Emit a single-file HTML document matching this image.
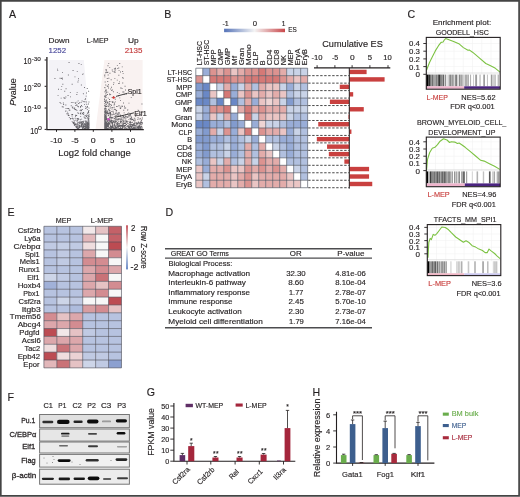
<!DOCTYPE html>
<html><head><meta charset="utf-8"><style>
html,body{margin:0;padding:0;background:#fff;}
body{width:520px;height:497px;overflow:hidden;}
svg{display:block;font-family:"Liberation Sans", sans-serif;filter:blur(0.3px);}
text{stroke-width:0.15px;}
</style></head><body>
<svg width="520" height="497" viewBox="0 0 520 497">
<rect width="520" height="497" fill="#fff"/>
<text x="8.90" y="17.80" font-size="10.6" text-anchor="start" fill="#231f20" stroke="#231f20" >A</text><text x="164.20" y="17.80" font-size="10.6" text-anchor="start" fill="#231f20" stroke="#231f20" >B</text><text x="407.40" y="18.00" font-size="10.6" text-anchor="start" fill="#231f20" stroke="#231f20" >C</text><text x="165.60" y="216.10" font-size="10.6" text-anchor="start" fill="#231f20" stroke="#231f20" >D</text><text x="7.60" y="215.80" font-size="10.6" text-anchor="start" fill="#231f20" stroke="#231f20" >E</text><text x="7.60" y="401.30" font-size="10.6" text-anchor="start" fill="#231f20" stroke="#231f20" >F</text><text x="146.80" y="396.00" font-size="10.6" text-anchor="start" fill="#231f20" stroke="#231f20" >G</text><text x="312.60" y="396.30" font-size="10.6" text-anchor="start" fill="#231f20" stroke="#231f20" >H</text><polygon points="49,60 83.8,60 90.2,129 49,129" fill="#f4f3f7"/><polygon points="104.4,60 142.6,60 142.6,129 95.6,129" fill="#f9f2f1"/><path d="M83.0 127.1h0.9v0.9h-0.9zM76.1 124.5h0.9v0.9h-0.9zM88.2 122.2h0.9v0.9h-0.9zM88.4 123.5h0.9v0.9h-0.9zM88.1 127.7h0.9v0.9h-0.9zM80.0 112.8h0.9v0.9h-0.9zM87.4 126.3h0.9v0.9h-0.9zM72.5 102.0h0.9v0.9h-0.9zM74.5 124.1h0.9v0.9h-0.9zM87.1 127.5h0.9v0.9h-0.9zM83.4 113.4h0.9v0.9h-0.9zM86.4 120.8h0.9v0.9h-0.9zM88.2 126.5h0.9v0.9h-0.9zM83.3 120.7h0.9v0.9h-0.9zM79.0 125.4h0.9v0.9h-0.9zM85.0 120.9h0.9v0.9h-0.9zM76.5 109.9h0.9v0.9h-0.9zM80.2 115.9h0.9v0.9h-0.9zM86.9 122.6h0.9v0.9h-0.9zM88.4 118.7h0.9v0.9h-0.9zM74.4 123.1h0.9v0.9h-0.9zM62.9 102.5h0.9v0.9h-0.9zM78.3 118.8h0.9v0.9h-0.9zM88.2 117.7h0.9v0.9h-0.9zM71.7 83.8h0.9v0.9h-0.9zM81.2 118.7h0.9v0.9h-0.9zM88.5 123.0h0.9v0.9h-0.9zM86.6 127.5h0.9v0.9h-0.9zM88.2 115.4h0.9v0.9h-0.9zM87.3 126.0h0.9v0.9h-0.9zM81.0 110.1h0.9v0.9h-0.9zM88.0 123.2h0.9v0.9h-0.9zM75.6 109.3h0.9v0.9h-0.9zM84.2 123.8h0.9v0.9h-0.9zM82.0 109.2h0.9v0.9h-0.9zM86.5 126.2h0.9v0.9h-0.9zM85.3 122.6h0.9v0.9h-0.9zM88.6 123.7h0.9v0.9h-0.9zM81.7 121.1h0.9v0.9h-0.9zM76.8 119.9h0.9v0.9h-0.9zM81.0 124.0h0.9v0.9h-0.9zM87.7 119.5h0.9v0.9h-0.9zM88.2 128.0h0.9v0.9h-0.9zM85.8 127.0h0.9v0.9h-0.9zM82.5 128.1h0.9v0.9h-0.9zM88.6 127.1h0.9v0.9h-0.9zM87.7 124.5h0.9v0.9h-0.9zM88.5 109.9h0.9v0.9h-0.9zM84.8 124.8h0.9v0.9h-0.9zM81.8 127.4h0.9v0.9h-0.9zM62.4 83.8h0.9v0.9h-0.9zM78.6 122.6h0.9v0.9h-0.9zM87.9 127.6h0.9v0.9h-0.9zM82.5 125.8h0.9v0.9h-0.9zM88.5 101.5h0.9v0.9h-0.9zM76.4 127.2h0.9v0.9h-0.9zM76.4 94.0h0.9v0.9h-0.9zM84.6 124.5h0.9v0.9h-0.9zM86.7 115.3h0.9v0.9h-0.9zM76.2 115.0h0.9v0.9h-0.9zM82.8 126.3h0.9v0.9h-0.9zM64.3 90.8h0.9v0.9h-0.9zM85.4 122.0h0.9v0.9h-0.9zM82.1 128.3h0.9v0.9h-0.9zM88.5 125.7h0.9v0.9h-0.9zM84.7 118.0h0.9v0.9h-0.9zM58.0 88.8h0.9v0.9h-0.9zM85.6 126.3h0.9v0.9h-0.9zM86.1 126.5h0.9v0.9h-0.9zM72.6 107.8h0.9v0.9h-0.9zM71.4 114.1h0.9v0.9h-0.9zM87.9 118.9h0.9v0.9h-0.9zM86.4 114.6h0.9v0.9h-0.9zM82.8 114.1h0.9v0.9h-0.9zM80.7 102.2h0.9v0.9h-0.9zM87.3 127.1h0.9v0.9h-0.9zM87.0 112.8h0.9v0.9h-0.9zM82.2 121.4h0.9v0.9h-0.9zM87.3 128.5h0.9v0.9h-0.9zM76.4 104.2h0.9v0.9h-0.9zM79.7 110.1h0.9v0.9h-0.9zM84.9 125.5h0.9v0.9h-0.9zM85.1 120.7h0.9v0.9h-0.9zM84.7 123.7h0.9v0.9h-0.9zM87.3 106.9h0.9v0.9h-0.9zM82.2 123.1h0.9v0.9h-0.9zM74.2 107.5h0.9v0.9h-0.9zM80.1 106.1h0.9v0.9h-0.9zM77.3 121.8h0.9v0.9h-0.9zM76.5 128.4h0.9v0.9h-0.9zM79.5 126.8h0.9v0.9h-0.9zM88.6 114.2h0.9v0.9h-0.9zM86.6 122.8h0.9v0.9h-0.9zM82.9 122.0h0.9v0.9h-0.9zM75.3 114.8h0.9v0.9h-0.9zM87.7 121.2h0.9v0.9h-0.9zM84.9 125.7h0.9v0.9h-0.9zM75.1 115.8h0.9v0.9h-0.9zM73.1 122.3h0.9v0.9h-0.9zM76.9 118.0h0.9v0.9h-0.9zM79.0 121.7h0.9v0.9h-0.9zM78.2 103.1h0.9v0.9h-0.9zM69.4 109.8h0.9v0.9h-0.9zM75.2 102.8h0.9v0.9h-0.9zM87.4 123.3h0.9v0.9h-0.9zM88.1 126.1h0.9v0.9h-0.9zM88.1 118.6h0.9v0.9h-0.9zM65.6 108.1h0.9v0.9h-0.9zM86.9 117.3h0.9v0.9h-0.9zM60.7 97.7h0.9v0.9h-0.9zM85.6 101.2h0.9v0.9h-0.9zM80.8 122.6h0.9v0.9h-0.9zM86.8 123.5h0.9v0.9h-0.9zM76.8 124.9h0.9v0.9h-0.9zM86.1 125.1h0.9v0.9h-0.9zM75.4 123.4h0.9v0.9h-0.9zM88.5 125.0h0.9v0.9h-0.9zM72.6 122.1h0.9v0.9h-0.9zM88.2 90.8h0.9v0.9h-0.9zM65.4 96.5h0.9v0.9h-0.9zM87.7 125.8h0.9v0.9h-0.9zM88.4 115.0h0.9v0.9h-0.9zM84.4 127.4h0.9v0.9h-0.9zM80.0 106.8h0.9v0.9h-0.9zM87.0 106.0h0.9v0.9h-0.9zM74.7 117.8h0.9v0.9h-0.9zM87.9 128.1h0.9v0.9h-0.9zM88.1 103.5h0.9v0.9h-0.9zM72.2 114.0h0.9v0.9h-0.9zM88.0 111.1h0.9v0.9h-0.9zM88.2 110.7h0.9v0.9h-0.9zM79.0 124.9h0.9v0.9h-0.9zM75.4 105.1h0.9v0.9h-0.9zM84.5 127.4h0.9v0.9h-0.9zM76.4 126.1h0.9v0.9h-0.9zM87.6 127.0h0.9v0.9h-0.9zM88.3 126.6h0.9v0.9h-0.9zM83.3 125.3h0.9v0.9h-0.9zM77.4 126.8h0.9v0.9h-0.9zM82.3 128.4h0.9v0.9h-0.9zM84.9 128.5h0.9v0.9h-0.9zM86.2 122.8h0.9v0.9h-0.9zM77.6 112.4h0.9v0.9h-0.9zM81.0 122.2h0.9v0.9h-0.9zM69.9 92.2h0.9v0.9h-0.9zM82.5 112.5h0.9v0.9h-0.9zM80.6 124.8h0.9v0.9h-0.9zM88.3 127.3h0.9v0.9h-0.9zM88.1 116.4h0.9v0.9h-0.9zM84.8 127.0h0.9v0.9h-0.9zM87.9 112.0h0.9v0.9h-0.9zM84.1 126.1h0.9v0.9h-0.9zM83.8 123.1h0.9v0.9h-0.9zM86.8 123.3h0.9v0.9h-0.9zM84.6 99.2h0.9v0.9h-0.9zM85.0 98.3h0.9v0.9h-0.9zM83.4 124.6h0.9v0.9h-0.9zM88.6 124.3h0.9v0.9h-0.9zM78.3 122.3h0.9v0.9h-0.9zM86.0 122.3h0.9v0.9h-0.9zM88.6 125.8h0.9v0.9h-0.9zM87.9 124.0h0.9v0.9h-0.9zM88.4 128.4h0.9v0.9h-0.9zM83.5 126.2h0.9v0.9h-0.9zM74.2 121.8h0.9v0.9h-0.9zM68.7 109.6h0.9v0.9h-0.9zM81.1 125.0h0.9v0.9h-0.9zM88.4 112.4h0.9v0.9h-0.9zM67.9 113.5h0.9v0.9h-0.9zM87.1 121.9h0.9v0.9h-0.9zM77.2 112.4h0.9v0.9h-0.9zM74.2 108.5h0.9v0.9h-0.9zM70.1 118.0h0.9v0.9h-0.9zM85.4 128.3h0.9v0.9h-0.9zM87.3 124.6h0.9v0.9h-0.9zM87.7 112.3h0.9v0.9h-0.9zM75.2 119.7h0.9v0.9h-0.9zM72.5 118.3h0.9v0.9h-0.9zM77.8 128.6h0.9v0.9h-0.9zM77.3 121.7h0.9v0.9h-0.9zM88.1 125.8h0.9v0.9h-0.9zM67.6 95.1h0.9v0.9h-0.9zM77.6 124.3h0.9v0.9h-0.9zM78.1 118.2h0.9v0.9h-0.9zM87.0 126.0h0.9v0.9h-0.9zM88.2 125.8h0.9v0.9h-0.9zM70.6 118.0h0.9v0.9h-0.9zM76.8 123.0h0.9v0.9h-0.9zM78.6 127.5h0.9v0.9h-0.9zM88.5 123.1h0.9v0.9h-0.9zM63.9 97.6h0.9v0.9h-0.9zM79.1 125.8h0.9v0.9h-0.9zM85.8 102.4h0.9v0.9h-0.9zM85.8 120.8h0.9v0.9h-0.9zM87.1 121.9h0.9v0.9h-0.9zM85.3 108.1h0.9v0.9h-0.9zM77.9 128.4h0.9v0.9h-0.9zM88.6 122.5h0.9v0.9h-0.9zM79.1 125.4h0.9v0.9h-0.9zM87.1 124.8h0.9v0.9h-0.9zM83.2 112.1h0.9v0.9h-0.9zM88.6 116.1h0.9v0.9h-0.9zM81.6 124.1h0.9v0.9h-0.9zM81.9 123.6h0.9v0.9h-0.9zM84.3 128.2h0.9v0.9h-0.9zM87.7 112.4h0.9v0.9h-0.9zM84.0 103.9h0.9v0.9h-0.9zM84.9 125.8h0.9v0.9h-0.9zM77.0 126.7h0.9v0.9h-0.9zM81.6 100.5h0.9v0.9h-0.9zM72.3 106.6h0.9v0.9h-0.9zM84.0 128.1h0.9v0.9h-0.9zM78.4 124.8h0.9v0.9h-0.9zM83.7 116.5h0.9v0.9h-0.9zM75.3 124.1h0.9v0.9h-0.9zM86.7 127.0h0.9v0.9h-0.9zM85.8 107.3h0.9v0.9h-0.9zM77.5 126.4h0.9v0.9h-0.9zM59.6 77.8h0.9v0.9h-0.9zM79.1 127.2h0.9v0.9h-0.9zM86.2 127.7h0.9v0.9h-0.9zM82.5 127.7h0.9v0.9h-0.9zM85.2 125.9h0.9v0.9h-0.9zM74.8 109.0h0.9v0.9h-0.9zM80.3 121.9h0.9v0.9h-0.9zM81.5 124.9h0.9v0.9h-0.9zM88.2 125.7h0.9v0.9h-0.9zM77.3 119.7h0.9v0.9h-0.9zM84.4 126.0h0.9v0.9h-0.9zM80.8 123.3h0.9v0.9h-0.9zM88.5 117.5h0.9v0.9h-0.9zM81.0 105.1h0.9v0.9h-0.9zM87.6 127.1h0.9v0.9h-0.9zM76.6 118.3h0.9v0.9h-0.9zM71.6 115.6h0.9v0.9h-0.9zM78.9 121.4h0.9v0.9h-0.9zM88.4 114.9h0.9v0.9h-0.9zM85.3 105.9h0.9v0.9h-0.9zM87.3 126.0h0.9v0.9h-0.9zM72.1 117.8h0.9v0.9h-0.9zM87.6 127.9h0.9v0.9h-0.9zM76.5 120.7h0.9v0.9h-0.9zM81.1 126.3h0.9v0.9h-0.9zM83.6 123.0h0.9v0.9h-0.9zM85.3 126.0h0.9v0.9h-0.9zM83.5 128.4h0.9v0.9h-0.9zM77.4 118.5h0.9v0.9h-0.9zM80.1 125.9h0.9v0.9h-0.9zM70.8 105.3h0.9v0.9h-0.9zM85.4 128.3h0.9v0.9h-0.9zM82.6 123.7h0.9v0.9h-0.9zM77.2 126.5h0.9v0.9h-0.9zM85.6 115.7h0.9v0.9h-0.9zM83.8 101.3h0.9v0.9h-0.9zM77.5 126.7h0.9v0.9h-0.9zM85.5 123.7h0.9v0.9h-0.9zM70.9 101.9h0.9v0.9h-0.9zM87.0 124.1h0.9v0.9h-0.9zM85.7 95.7h0.9v0.9h-0.9zM87.1 128.1h0.9v0.9h-0.9zM88.2 124.1h0.9v0.9h-0.9zM67.9 74.6h0.9v0.9h-0.9zM86.3 103.9h0.9v0.9h-0.9zM81.6 125.0h0.9v0.9h-0.9zM86.6 128.6h0.9v0.9h-0.9zM84.2 124.7h0.9v0.9h-0.9zM82.1 113.1h0.9v0.9h-0.9zM88.3 122.8h0.9v0.9h-0.9zM81.6 105.9h0.9v0.9h-0.9zM86.2 124.5h0.9v0.9h-0.9zM80.4 113.6h0.9v0.9h-0.9zM88.4 128.0h0.9v0.9h-0.9zM67.3 108.0h0.9v0.9h-0.9zM82.6 125.7h0.9v0.9h-0.9zM84.6 117.3h0.9v0.9h-0.9zM83.2 125.7h0.9v0.9h-0.9zM88.6 115.9h0.9v0.9h-0.9zM85.3 122.8h0.9v0.9h-0.9zM81.2 126.0h0.9v0.9h-0.9zM79.8 122.5h0.9v0.9h-0.9zM83.1 124.6h0.9v0.9h-0.9zM86.1 116.0h0.9v0.9h-0.9zM85.0 128.0h0.9v0.9h-0.9zM88.4 121.4h0.9v0.9h-0.9zM82.9 93.3h0.9v0.9h-0.9zM60.7 88.9h0.9v0.9h-0.9zM84.5 127.8h0.9v0.9h-0.9zM87.8 122.4h0.9v0.9h-0.9zM85.3 123.7h0.9v0.9h-0.9zM72.8 118.5h0.9v0.9h-0.9zM67.2 111.7h0.9v0.9h-0.9zM74.9 124.4h0.9v0.9h-0.9zM85.0 126.1h0.9v0.9h-0.9zM86.9 109.2h0.9v0.9h-0.9zM74.4 125.0h0.9v0.9h-0.9zM80.9 84.6h0.9v0.9h-0.9zM77.1 126.2h0.9v0.9h-0.9zM78.3 113.2h0.9v0.9h-0.9zM62.8 106.5h0.9v0.9h-0.9zM88.4 125.5h0.9v0.9h-0.9zM87.5 126.7h0.9v0.9h-0.9zM84.7 115.1h0.9v0.9h-0.9zM73.7 119.9h0.9v0.9h-0.9zM85.6 124.5h0.9v0.9h-0.9zM87.1 126.5h0.9v0.9h-0.9zM84.8 120.4h0.9v0.9h-0.9zM88.6 125.0h0.9v0.9h-0.9zM83.3 126.6h0.9v0.9h-0.9zM88.2 127.6h0.9v0.9h-0.9zM80.9 121.4h0.9v0.9h-0.9zM86.7 117.9h0.9v0.9h-0.9zM80.4 125.6h0.9v0.9h-0.9zM83.4 101.0h0.9v0.9h-0.9zM83.3 121.1h0.9v0.9h-0.9zM82.1 123.8h0.9v0.9h-0.9zM61.7 77.4h0.9v0.9h-0.9zM81.9 126.6h0.9v0.9h-0.9zM88.6 107.7h0.9v0.9h-0.9zM80.0 113.1h0.9v0.9h-0.9zM80.6 109.3h0.9v0.9h-0.9zM78.8 127.0h0.9v0.9h-0.9zM88.6 121.4h0.9v0.9h-0.9zM71.9 106.9h0.9v0.9h-0.9zM87.9 119.8h0.9v0.9h-0.9zM81.6 122.3h0.9v0.9h-0.9zM87.0 125.6h0.9v0.9h-0.9zM76.6 105.2h0.9v0.9h-0.9zM87.6 122.5h0.9v0.9h-0.9zM64.6 97.9h0.9v0.9h-0.9zM86.1 127.4h0.9v0.9h-0.9zM57.6 95.2h0.9v0.9h-0.9zM78.0 128.1h0.9v0.9h-0.9zM80.6 111.7h0.9v0.9h-0.9zM85.6 124.0h0.9v0.9h-0.9zM76.7 124.2h0.9v0.9h-0.9zM87.4 126.0h0.9v0.9h-0.9zM68.3 108.1h0.9v0.9h-0.9zM88.4 121.2h0.9v0.9h-0.9zM73.6 121.4h0.9v0.9h-0.9zM80.1 120.7h0.9v0.9h-0.9zM79.9 118.9h0.9v0.9h-0.9zM79.2 123.4h0.9v0.9h-0.9zM88.5 119.9h0.9v0.9h-0.9zM77.8 126.2h0.9v0.9h-0.9zM78.8 126.8h0.9v0.9h-0.9zM78.3 127.6h0.9v0.9h-0.9zM87.3 123.5h0.9v0.9h-0.9zM87.9 123.3h0.9v0.9h-0.9zM77.0 128.2h0.9v0.9h-0.9zM67.9 115.1h0.9v0.9h-0.9zM77.0 128.1h0.9v0.9h-0.9zM77.2 124.3h0.9v0.9h-0.9zM62.0 78.6h0.9v0.9h-0.9zM68.0 113.4h0.9v0.9h-0.9zM86.1 92.6h0.9v0.9h-0.9zM77.7 100.4h0.9v0.9h-0.9zM65.4 104.6h0.9v0.9h-0.9zM88.2 124.7h0.9v0.9h-0.9zM77.3 105.9h0.9v0.9h-0.9zM85.8 125.9h0.9v0.9h-0.9zM74.5 76.4h0.9v0.9h-0.9zM57.3 70.2h0.9v0.9h-0.9zM63.2 104.1h0.9v0.9h-0.9zM79.2 102.3h0.9v0.9h-0.9zM63.5 97.3h0.9v0.9h-0.9zM61.3 85.9h0.9v0.9h-0.9zM78.0 78.2h0.9v0.9h-0.9zM84.0 87.0h0.9v0.9h-0.9zM76.5 101.7h0.9v0.9h-0.9zM77.9 79.7h0.9v0.9h-0.9zM82.2 73.9h0.9v0.9h-0.9zM86.8 88.0h0.9v0.9h-0.9zM70.1 96.4h0.9v0.9h-0.9zM72.6 70.0h0.9v0.9h-0.9zM80.8 64.2h0.9v0.9h-0.9zM82.7 73.4h0.9v0.9h-0.9zM78.1 106.3h0.9v0.9h-0.9zM76.7 91.9h0.9v0.9h-0.9zM68.6 62.1h0.9v0.9h-0.9zM57.1 68.7h0.9v0.9h-0.9zM77.5 81.5h0.9v0.9h-0.9zM74.7 102.3h0.9v0.9h-0.9zM62.0 72.2h0.9v0.9h-0.9zM78.5 63.0h0.9v0.9h-0.9zM54.5 78.0h0.9v0.9h-0.9zM60.9 78.1h0.9v0.9h-0.9zM65.6 88.3h0.9v0.9h-0.9zM76.8 71.2h0.9v0.9h-0.9zM69.9 118.6h0.9v0.9h-0.9zM75.5 126.4h0.9v0.9h-0.9zM60.5 102.9h0.9v0.9h-0.9zM72.4 121.9h0.9v0.9h-0.9zM59.6 102.1h0.9v0.9h-0.9zM65.3 110.8h0.9v0.9h-0.9zM75.4 126.1h0.9v0.9h-0.9zM75.9 127.2h0.9v0.9h-0.9zM66.7 113.6h0.9v0.9h-0.9zM73.9 124.5h0.9v0.9h-0.9zM75.9 127.0h0.9v0.9h-0.9zM68.9 117.2h0.9v0.9h-0.9zM73.7 123.6h0.9v0.9h-0.9zM66.6 113.0h0.9v0.9h-0.9zM72.9 123.1h0.9v0.9h-0.9zM73.9 123.4h0.9v0.9h-0.9zM71.7 121.2h0.9v0.9h-0.9zM61.8 106.3h0.9v0.9h-0.9zM65.5 110.4h0.9v0.9h-0.9zM73.8 123.7h0.9v0.9h-0.9zM67.8 114.9h0.9v0.9h-0.9zM68.5 115.0h0.9v0.9h-0.9zM139.6 127.5h0.9v0.9h-0.9zM104.2 125.1h0.9v0.9h-0.9zM125.2 107.6h0.9v0.9h-0.9zM108.3 106.0h0.9v0.9h-0.9zM106.4 102.3h0.9v0.9h-0.9zM122.4 120.1h0.9v0.9h-0.9zM112.6 110.7h0.9v0.9h-0.9zM132.1 125.2h0.9v0.9h-0.9zM116.6 125.3h0.9v0.9h-0.9zM118.9 127.9h0.9v0.9h-0.9zM105.0 128.3h0.9v0.9h-0.9zM137.0 126.5h0.9v0.9h-0.9zM104.2 128.1h0.9v0.9h-0.9zM119.5 118.6h0.9v0.9h-0.9zM104.4 118.4h0.9v0.9h-0.9zM129.6 117.7h0.9v0.9h-0.9zM104.4 105.5h0.9v0.9h-0.9zM138.1 128.1h0.9v0.9h-0.9zM104.7 128.2h0.9v0.9h-0.9zM129.3 122.1h0.9v0.9h-0.9zM119.5 118.3h0.9v0.9h-0.9zM105.8 124.3h0.9v0.9h-0.9zM104.2 125.2h0.9v0.9h-0.9zM123.7 125.1h0.9v0.9h-0.9zM139.5 125.5h0.9v0.9h-0.9zM118.7 128.3h0.9v0.9h-0.9zM111.4 113.8h0.9v0.9h-0.9zM123.1 122.7h0.9v0.9h-0.9zM132.5 128.0h0.9v0.9h-0.9zM105.3 128.6h0.9v0.9h-0.9zM112.9 91.3h0.9v0.9h-0.9zM128.3 127.2h0.9v0.9h-0.9zM108.8 109.8h0.9v0.9h-0.9zM138.1 127.0h0.9v0.9h-0.9zM122.8 123.3h0.9v0.9h-0.9zM119.6 127.9h0.9v0.9h-0.9zM122.7 116.6h0.9v0.9h-0.9zM109.0 123.2h0.9v0.9h-0.9zM134.3 128.1h0.9v0.9h-0.9zM104.2 126.0h0.9v0.9h-0.9zM135.1 124.9h0.9v0.9h-0.9zM133.9 127.1h0.9v0.9h-0.9zM114.9 115.5h0.9v0.9h-0.9zM120.1 125.1h0.9v0.9h-0.9zM105.1 107.7h0.9v0.9h-0.9zM125.1 127.2h0.9v0.9h-0.9zM126.9 122.6h0.9v0.9h-0.9zM112.3 107.3h0.9v0.9h-0.9zM105.6 124.6h0.9v0.9h-0.9zM131.2 127.6h0.9v0.9h-0.9zM106.5 124.3h0.9v0.9h-0.9zM105.2 124.1h0.9v0.9h-0.9zM140.3 123.1h0.9v0.9h-0.9zM139.4 128.1h0.9v0.9h-0.9zM141.0 122.1h0.9v0.9h-0.9zM111.4 126.4h0.9v0.9h-0.9zM104.6 126.0h0.9v0.9h-0.9zM104.2 122.8h0.9v0.9h-0.9zM122.5 123.2h0.9v0.9h-0.9zM112.4 127.1h0.9v0.9h-0.9zM110.4 114.8h0.9v0.9h-0.9zM111.2 120.0h0.9v0.9h-0.9zM110.9 126.0h0.9v0.9h-0.9zM133.6 120.3h0.9v0.9h-0.9zM131.8 121.8h0.9v0.9h-0.9zM112.0 124.9h0.9v0.9h-0.9zM104.6 122.4h0.9v0.9h-0.9zM123.5 121.1h0.9v0.9h-0.9zM111.0 122.5h0.9v0.9h-0.9zM110.6 117.1h0.9v0.9h-0.9zM105.5 116.7h0.9v0.9h-0.9zM109.9 121.7h0.9v0.9h-0.9zM104.3 119.6h0.9v0.9h-0.9zM127.4 109.4h0.9v0.9h-0.9zM104.6 118.9h0.9v0.9h-0.9zM123.8 123.2h0.9v0.9h-0.9zM130.3 124.0h0.9v0.9h-0.9zM138.3 127.5h0.9v0.9h-0.9zM110.1 113.8h0.9v0.9h-0.9zM110.9 105.1h0.9v0.9h-0.9zM104.2 122.4h0.9v0.9h-0.9zM122.7 125.2h0.9v0.9h-0.9zM106.1 113.6h0.9v0.9h-0.9zM114.8 126.3h0.9v0.9h-0.9zM110.0 126.1h0.9v0.9h-0.9zM127.1 117.2h0.9v0.9h-0.9zM112.6 120.5h0.9v0.9h-0.9zM139.5 126.7h0.9v0.9h-0.9zM129.7 117.8h0.9v0.9h-0.9zM107.5 120.0h0.9v0.9h-0.9zM130.6 125.9h0.9v0.9h-0.9zM106.9 123.4h0.9v0.9h-0.9zM108.4 77.8h0.9v0.9h-0.9zM106.5 124.6h0.9v0.9h-0.9zM111.2 118.4h0.9v0.9h-0.9zM109.2 101.0h0.9v0.9h-0.9zM104.3 108.5h0.9v0.9h-0.9zM127.6 127.6h0.9v0.9h-0.9zM116.9 65.2h0.9v0.9h-0.9zM106.6 127.4h0.9v0.9h-0.9zM106.3 112.1h0.9v0.9h-0.9zM105.1 102.1h0.9v0.9h-0.9zM105.3 103.7h0.9v0.9h-0.9zM127.4 121.1h0.9v0.9h-0.9zM127.8 116.3h0.9v0.9h-0.9zM122.4 122.7h0.9v0.9h-0.9zM111.5 107.2h0.9v0.9h-0.9zM106.9 125.7h0.9v0.9h-0.9zM113.4 128.0h0.9v0.9h-0.9zM105.0 121.0h0.9v0.9h-0.9zM112.4 71.2h0.9v0.9h-0.9zM116.2 118.7h0.9v0.9h-0.9zM109.5 123.0h0.9v0.9h-0.9zM104.4 117.0h0.9v0.9h-0.9zM104.2 117.8h0.9v0.9h-0.9zM137.2 126.6h0.9v0.9h-0.9zM114.1 122.3h0.9v0.9h-0.9zM104.2 114.1h0.9v0.9h-0.9zM108.6 107.7h0.9v0.9h-0.9zM112.8 121.3h0.9v0.9h-0.9zM105.9 122.2h0.9v0.9h-0.9zM115.9 112.6h0.9v0.9h-0.9zM130.2 125.4h0.9v0.9h-0.9zM107.0 120.9h0.9v0.9h-0.9zM120.5 115.7h0.9v0.9h-0.9zM108.0 124.8h0.9v0.9h-0.9zM123.0 77.7h0.9v0.9h-0.9zM115.5 128.1h0.9v0.9h-0.9zM104.2 126.2h0.9v0.9h-0.9zM118.3 119.3h0.9v0.9h-0.9zM135.7 123.7h0.9v0.9h-0.9zM119.1 118.5h0.9v0.9h-0.9zM121.8 126.7h0.9v0.9h-0.9zM112.2 114.4h0.9v0.9h-0.9zM105.4 128.2h0.9v0.9h-0.9zM136.0 123.2h0.9v0.9h-0.9zM129.9 118.8h0.9v0.9h-0.9zM106.7 124.7h0.9v0.9h-0.9zM108.1 122.6h0.9v0.9h-0.9zM137.3 128.3h0.9v0.9h-0.9zM104.3 127.2h0.9v0.9h-0.9zM116.8 106.2h0.9v0.9h-0.9zM104.2 123.0h0.9v0.9h-0.9zM137.6 109.7h0.9v0.9h-0.9zM110.7 127.5h0.9v0.9h-0.9zM117.6 127.7h0.9v0.9h-0.9zM105.7 69.6h0.9v0.9h-0.9zM104.2 114.0h0.9v0.9h-0.9zM118.4 74.8h0.9v0.9h-0.9zM118.3 83.1h0.9v0.9h-0.9zM112.3 102.1h0.9v0.9h-0.9zM116.8 126.3h0.9v0.9h-0.9zM129.6 128.1h0.9v0.9h-0.9zM124.4 127.3h0.9v0.9h-0.9zM113.2 128.0h0.9v0.9h-0.9zM116.8 123.4h0.9v0.9h-0.9zM105.0 110.6h0.9v0.9h-0.9zM120.0 120.4h0.9v0.9h-0.9zM109.9 112.7h0.9v0.9h-0.9zM127.6 122.9h0.9v0.9h-0.9zM104.3 86.9h0.9v0.9h-0.9zM130.2 126.1h0.9v0.9h-0.9zM140.5 121.1h0.9v0.9h-0.9zM107.8 122.6h0.9v0.9h-0.9zM109.6 116.6h0.9v0.9h-0.9zM134.7 119.8h0.9v0.9h-0.9zM104.2 125.1h0.9v0.9h-0.9zM117.3 113.6h0.9v0.9h-0.9zM104.3 108.1h0.9v0.9h-0.9zM132.8 123.7h0.9v0.9h-0.9zM131.7 118.8h0.9v0.9h-0.9zM120.6 87.5h0.9v0.9h-0.9zM105.7 113.1h0.9v0.9h-0.9zM106.3 118.3h0.9v0.9h-0.9zM112.4 126.3h0.9v0.9h-0.9zM125.6 117.3h0.9v0.9h-0.9zM104.5 109.9h0.9v0.9h-0.9zM106.3 119.0h0.9v0.9h-0.9zM134.0 124.5h0.9v0.9h-0.9zM117.4 126.8h0.9v0.9h-0.9zM105.4 115.1h0.9v0.9h-0.9zM116.3 123.9h0.9v0.9h-0.9zM105.0 128.1h0.9v0.9h-0.9zM109.5 127.4h0.9v0.9h-0.9zM127.8 127.5h0.9v0.9h-0.9zM125.9 124.2h0.9v0.9h-0.9zM132.7 124.8h0.9v0.9h-0.9zM106.8 112.1h0.9v0.9h-0.9zM138.2 121.8h0.9v0.9h-0.9zM106.6 110.3h0.9v0.9h-0.9zM104.5 128.0h0.9v0.9h-0.9zM133.0 125.1h0.9v0.9h-0.9zM135.7 128.3h0.9v0.9h-0.9zM110.2 127.3h0.9v0.9h-0.9zM106.7 119.5h0.9v0.9h-0.9zM139.0 123.6h0.9v0.9h-0.9zM111.8 126.9h0.9v0.9h-0.9zM109.9 106.4h0.9v0.9h-0.9zM135.2 116.2h0.9v0.9h-0.9zM104.3 110.9h0.9v0.9h-0.9zM119.5 114.5h0.9v0.9h-0.9zM137.7 123.2h0.9v0.9h-0.9zM117.5 116.1h0.9v0.9h-0.9zM108.2 125.4h0.9v0.9h-0.9zM113.0 126.8h0.9v0.9h-0.9zM106.8 78.0h0.9v0.9h-0.9zM104.2 98.5h0.9v0.9h-0.9zM137.3 118.9h0.9v0.9h-0.9zM121.8 66.4h0.9v0.9h-0.9zM119.2 123.5h0.9v0.9h-0.9zM129.9 124.5h0.9v0.9h-0.9zM114.4 78.2h0.9v0.9h-0.9zM105.0 105.5h0.9v0.9h-0.9zM110.6 126.9h0.9v0.9h-0.9zM131.0 126.1h0.9v0.9h-0.9zM113.4 124.9h0.9v0.9h-0.9zM117.2 68.2h0.9v0.9h-0.9zM105.9 121.4h0.9v0.9h-0.9zM106.7 126.1h0.9v0.9h-0.9zM141.5 103.6h0.9v0.9h-0.9zM104.6 124.7h0.9v0.9h-0.9zM104.3 113.8h0.9v0.9h-0.9zM140.6 128.5h0.9v0.9h-0.9zM113.8 71.6h0.9v0.9h-0.9zM105.5 122.2h0.9v0.9h-0.9zM106.0 119.2h0.9v0.9h-0.9zM105.4 112.1h0.9v0.9h-0.9zM113.0 84.2h0.9v0.9h-0.9zM107.1 126.1h0.9v0.9h-0.9zM123.2 115.8h0.9v0.9h-0.9zM105.8 127.8h0.9v0.9h-0.9zM109.5 72.8h0.9v0.9h-0.9zM131.1 116.5h0.9v0.9h-0.9zM104.2 101.0h0.9v0.9h-0.9zM133.1 126.8h0.9v0.9h-0.9zM130.5 125.8h0.9v0.9h-0.9zM111.9 89.5h0.9v0.9h-0.9zM114.3 127.4h0.9v0.9h-0.9zM129.5 115.8h0.9v0.9h-0.9zM123.4 124.9h0.9v0.9h-0.9zM104.3 105.0h0.9v0.9h-0.9zM113.5 121.7h0.9v0.9h-0.9zM115.2 128.4h0.9v0.9h-0.9zM106.1 126.4h0.9v0.9h-0.9zM118.0 118.4h0.9v0.9h-0.9zM105.6 128.4h0.9v0.9h-0.9zM116.8 122.0h0.9v0.9h-0.9zM104.6 105.4h0.9v0.9h-0.9zM104.3 127.1h0.9v0.9h-0.9zM113.7 125.5h0.9v0.9h-0.9zM110.5 127.1h0.9v0.9h-0.9zM132.4 127.7h0.9v0.9h-0.9zM125.4 127.3h0.9v0.9h-0.9zM137.6 126.2h0.9v0.9h-0.9zM131.0 124.1h0.9v0.9h-0.9zM137.9 121.5h0.9v0.9h-0.9zM106.4 124.1h0.9v0.9h-0.9zM140.8 121.8h0.9v0.9h-0.9zM125.0 89.6h0.9v0.9h-0.9zM137.4 127.2h0.9v0.9h-0.9zM119.4 124.8h0.9v0.9h-0.9zM104.4 122.1h0.9v0.9h-0.9zM104.2 126.9h0.9v0.9h-0.9zM127.1 109.6h0.9v0.9h-0.9zM129.1 114.6h0.9v0.9h-0.9zM104.2 116.9h0.9v0.9h-0.9zM121.7 126.1h0.9v0.9h-0.9zM136.7 123.8h0.9v0.9h-0.9zM114.5 123.3h0.9v0.9h-0.9zM107.3 124.7h0.9v0.9h-0.9zM104.8 118.4h0.9v0.9h-0.9zM114.2 125.6h0.9v0.9h-0.9zM115.0 127.1h0.9v0.9h-0.9zM104.9 124.7h0.9v0.9h-0.9zM121.7 87.9h0.9v0.9h-0.9zM118.3 121.3h0.9v0.9h-0.9zM105.7 114.8h0.9v0.9h-0.9zM115.6 119.9h0.9v0.9h-0.9zM107.9 125.6h0.9v0.9h-0.9zM114.2 124.0h0.9v0.9h-0.9zM104.2 123.6h0.9v0.9h-0.9zM106.4 119.6h0.9v0.9h-0.9zM107.3 81.1h0.9v0.9h-0.9zM111.8 69.5h0.9v0.9h-0.9zM104.3 123.0h0.9v0.9h-0.9zM124.8 127.7h0.9v0.9h-0.9zM139.2 122.6h0.9v0.9h-0.9zM108.5 124.0h0.9v0.9h-0.9zM118.6 112.3h0.9v0.9h-0.9zM114.4 116.0h0.9v0.9h-0.9zM126.1 124.0h0.9v0.9h-0.9zM123.3 109.8h0.9v0.9h-0.9zM133.0 128.6h0.9v0.9h-0.9zM117.2 122.5h0.9v0.9h-0.9zM116.6 123.7h0.9v0.9h-0.9zM133.1 123.3h0.9v0.9h-0.9zM112.0 122.5h0.9v0.9h-0.9zM107.5 123.2h0.9v0.9h-0.9zM109.8 124.6h0.9v0.9h-0.9zM131.6 124.5h0.9v0.9h-0.9zM105.5 124.5h0.9v0.9h-0.9zM109.3 66.9h0.9v0.9h-0.9zM131.2 117.6h0.9v0.9h-0.9zM105.8 122.4h0.9v0.9h-0.9zM104.2 128.0h0.9v0.9h-0.9zM113.6 104.4h0.9v0.9h-0.9zM115.2 69.4h0.9v0.9h-0.9zM114.4 117.7h0.9v0.9h-0.9zM109.1 119.1h0.9v0.9h-0.9zM138.3 123.4h0.9v0.9h-0.9zM104.6 123.3h0.9v0.9h-0.9zM116.2 120.9h0.9v0.9h-0.9zM139.5 125.7h0.9v0.9h-0.9zM119.0 81.4h0.9v0.9h-0.9zM114.9 112.8h0.9v0.9h-0.9zM108.0 87.6h0.9v0.9h-0.9zM114.2 127.5h0.9v0.9h-0.9zM122.3 115.1h0.9v0.9h-0.9zM134.2 125.6h0.9v0.9h-0.9zM107.4 120.8h0.9v0.9h-0.9zM105.5 126.3h0.9v0.9h-0.9zM118.0 124.8h0.9v0.9h-0.9zM119.6 128.2h0.9v0.9h-0.9zM127.8 126.1h0.9v0.9h-0.9zM104.2 124.4h0.9v0.9h-0.9zM117.3 118.8h0.9v0.9h-0.9zM113.6 120.9h0.9v0.9h-0.9zM120.1 122.3h0.9v0.9h-0.9zM116.7 123.9h0.9v0.9h-0.9zM105.1 112.5h0.9v0.9h-0.9zM104.6 126.5h0.9v0.9h-0.9zM129.9 122.6h0.9v0.9h-0.9zM104.3 128.5h0.9v0.9h-0.9zM108.2 115.2h0.9v0.9h-0.9zM115.1 67.7h0.9v0.9h-0.9zM108.8 122.3h0.9v0.9h-0.9zM104.3 103.3h0.9v0.9h-0.9zM139.2 126.0h0.9v0.9h-0.9zM106.6 128.1h0.9v0.9h-0.9zM132.0 126.4h0.9v0.9h-0.9zM129.5 126.3h0.9v0.9h-0.9zM139.2 125.6h0.9v0.9h-0.9zM106.4 123.2h0.9v0.9h-0.9zM106.1 124.5h0.9v0.9h-0.9zM113.1 113.4h0.9v0.9h-0.9zM105.3 123.6h0.9v0.9h-0.9zM140.1 127.1h0.9v0.9h-0.9zM104.7 119.9h0.9v0.9h-0.9zM110.4 127.9h0.9v0.9h-0.9zM130.1 125.9h0.9v0.9h-0.9zM105.6 124.9h0.9v0.9h-0.9zM104.2 116.1h0.9v0.9h-0.9zM121.6 105.5h0.9v0.9h-0.9zM104.8 122.0h0.9v0.9h-0.9zM128.8 127.5h0.9v0.9h-0.9zM124.0 125.1h0.9v0.9h-0.9zM105.8 95.0h0.9v0.9h-0.9zM106.2 121.9h0.9v0.9h-0.9zM123.2 126.3h0.9v0.9h-0.9zM117.3 124.5h0.9v0.9h-0.9zM118.3 126.5h0.9v0.9h-0.9zM104.8 120.4h0.9v0.9h-0.9zM107.0 112.5h0.9v0.9h-0.9zM120.6 121.7h0.9v0.9h-0.9zM110.0 127.7h0.9v0.9h-0.9zM131.7 126.3h0.9v0.9h-0.9zM104.7 119.2h0.9v0.9h-0.9zM107.4 102.7h0.9v0.9h-0.9zM104.8 114.3h0.9v0.9h-0.9zM110.4 104.1h0.9v0.9h-0.9zM133.8 117.7h0.9v0.9h-0.9zM107.1 128.3h0.9v0.9h-0.9zM120.9 125.1h0.9v0.9h-0.9zM120.7 118.8h0.9v0.9h-0.9zM131.4 126.0h0.9v0.9h-0.9zM105.5 127.2h0.9v0.9h-0.9zM106.3 123.6h0.9v0.9h-0.9zM105.7 124.6h0.9v0.9h-0.9zM104.3 124.3h0.9v0.9h-0.9zM105.4 108.1h0.9v0.9h-0.9zM123.7 126.4h0.9v0.9h-0.9zM120.0 71.5h0.9v0.9h-0.9zM107.3 128.1h0.9v0.9h-0.9zM118.2 128.2h0.9v0.9h-0.9zM104.7 110.8h0.9v0.9h-0.9zM110.7 79.3h0.9v0.9h-0.9zM125.4 115.9h0.9v0.9h-0.9zM104.5 95.3h0.9v0.9h-0.9zM137.1 122.9h0.9v0.9h-0.9zM130.4 122.4h0.9v0.9h-0.9zM104.3 114.9h0.9v0.9h-0.9zM114.2 103.7h0.9v0.9h-0.9zM126.3 128.3h0.9v0.9h-0.9zM128.9 126.6h0.9v0.9h-0.9zM139.9 124.2h0.9v0.9h-0.9zM106.6 127.9h0.9v0.9h-0.9zM110.6 126.3h0.9v0.9h-0.9zM104.9 114.7h0.9v0.9h-0.9zM106.4 125.5h0.9v0.9h-0.9zM111.7 101.3h0.9v0.9h-0.9zM107.6 105.3h0.9v0.9h-0.9zM116.3 124.9h0.9v0.9h-0.9zM115.6 115.5h0.9v0.9h-0.9zM121.1 121.2h0.9v0.9h-0.9zM126.5 116.2h0.9v0.9h-0.9zM107.4 123.8h0.9v0.9h-0.9zM104.3 124.8h0.9v0.9h-0.9zM122.9 124.0h0.9v0.9h-0.9zM108.2 121.9h0.9v0.9h-0.9zM119.3 63.0h0.9v0.9h-0.9zM104.5 114.2h0.9v0.9h-0.9zM116.3 127.6h0.9v0.9h-0.9zM111.4 126.5h0.9v0.9h-0.9zM104.2 99.7h0.9v0.9h-0.9zM119.2 105.4h0.9v0.9h-0.9zM106.6 125.5h0.9v0.9h-0.9zM104.2 111.5h0.9v0.9h-0.9zM107.5 126.4h0.9v0.9h-0.9zM131.4 112.9h0.9v0.9h-0.9zM127.6 116.6h0.9v0.9h-0.9zM108.3 126.4h0.9v0.9h-0.9zM108.1 123.7h0.9v0.9h-0.9zM109.4 110.0h0.9v0.9h-0.9zM104.3 119.0h0.9v0.9h-0.9zM129.7 120.8h0.9v0.9h-0.9zM138.1 125.4h0.9v0.9h-0.9zM105.1 124.6h0.9v0.9h-0.9zM104.4 115.3h0.9v0.9h-0.9zM111.8 123.6h0.9v0.9h-0.9zM122.2 71.1h0.9v0.9h-0.9zM127.7 124.9h0.9v0.9h-0.9zM120.8 122.7h0.9v0.9h-0.9zM108.6 122.5h0.9v0.9h-0.9zM130.1 113.9h0.9v0.9h-0.9zM107.5 122.3h0.9v0.9h-0.9zM112.2 101.8h0.9v0.9h-0.9zM140.0 118.3h0.9v0.9h-0.9zM140.3 114.7h0.9v0.9h-0.9zM129.2 128.2h0.9v0.9h-0.9zM118.3 125.6h0.9v0.9h-0.9zM138.7 125.6h0.9v0.9h-0.9zM107.6 124.1h0.9v0.9h-0.9zM104.2 126.2h0.9v0.9h-0.9zM111.8 127.7h0.9v0.9h-0.9zM109.5 119.6h0.9v0.9h-0.9zM114.9 120.8h0.9v0.9h-0.9zM104.7 126.3h0.9v0.9h-0.9zM115.6 127.5h0.9v0.9h-0.9zM106.6 127.5h0.9v0.9h-0.9zM106.6 121.2h0.9v0.9h-0.9zM106.2 119.2h0.9v0.9h-0.9zM104.9 96.4h0.9v0.9h-0.9zM111.5 108.7h0.9v0.9h-0.9zM123.6 117.9h0.9v0.9h-0.9zM141.5 123.5h0.9v0.9h-0.9zM130.4 125.5h0.9v0.9h-0.9zM139.2 124.9h0.9v0.9h-0.9zM110.3 107.7h0.9v0.9h-0.9zM104.2 118.3h0.9v0.9h-0.9zM107.6 115.4h0.9v0.9h-0.9zM134.2 123.3h0.9v0.9h-0.9zM116.2 106.0h0.9v0.9h-0.9zM105.3 113.2h0.9v0.9h-0.9zM126.4 120.6h0.9v0.9h-0.9zM104.8 123.3h0.9v0.9h-0.9zM105.3 84.5h0.9v0.9h-0.9zM115.6 113.7h0.9v0.9h-0.9zM136.7 123.0h0.9v0.9h-0.9zM105.6 122.0h0.9v0.9h-0.9zM120.7 117.3h0.9v0.9h-0.9zM105.5 119.6h0.9v0.9h-0.9zM122.1 124.8h0.9v0.9h-0.9zM133.3 124.2h0.9v0.9h-0.9zM106.1 100.6h0.9v0.9h-0.9zM113.8 108.9h0.9v0.9h-0.9zM104.2 126.3h0.9v0.9h-0.9zM121.7 124.6h0.9v0.9h-0.9zM105.2 107.6h0.9v0.9h-0.9zM107.2 101.5h0.9v0.9h-0.9zM110.1 112.6h0.9v0.9h-0.9zM112.5 120.2h0.9v0.9h-0.9zM109.0 128.5h0.9v0.9h-0.9zM108.4 128.4h0.9v0.9h-0.9zM141.2 128.4h0.9v0.9h-0.9zM121.3 126.0h0.9v0.9h-0.9zM113.7 125.7h0.9v0.9h-0.9zM114.8 99.2h0.9v0.9h-0.9zM104.2 119.2h0.9v0.9h-0.9zM133.1 120.2h0.9v0.9h-0.9zM119.5 124.8h0.9v0.9h-0.9zM128.2 114.9h0.9v0.9h-0.9zM121.8 125.7h0.9v0.9h-0.9zM125.0 123.4h0.9v0.9h-0.9zM108.9 120.2h0.9v0.9h-0.9zM104.3 123.9h0.9v0.9h-0.9zM141.3 126.0h0.9v0.9h-0.9zM106.5 125.7h0.9v0.9h-0.9zM104.9 128.5h0.9v0.9h-0.9zM112.0 122.8h0.9v0.9h-0.9zM109.0 103.3h0.9v0.9h-0.9zM124.3 122.6h0.9v0.9h-0.9zM108.6 101.7h0.9v0.9h-0.9zM104.4 126.4h0.9v0.9h-0.9zM141.3 126.8h0.9v0.9h-0.9zM123.4 91.6h0.9v0.9h-0.9zM108.2 113.0h0.9v0.9h-0.9zM123.1 126.7h0.9v0.9h-0.9zM105.7 118.3h0.9v0.9h-0.9zM120.2 126.8h0.9v0.9h-0.9zM122.7 72.9h0.9v0.9h-0.9zM108.6 127.0h0.9v0.9h-0.9zM115.2 109.3h0.9v0.9h-0.9zM136.6 127.4h0.9v0.9h-0.9zM125.5 121.1h0.9v0.9h-0.9zM104.6 96.0h0.9v0.9h-0.9zM119.1 125.1h0.9v0.9h-0.9zM117.8 126.0h0.9v0.9h-0.9zM104.2 98.9h0.9v0.9h-0.9zM141.3 128.4h0.9v0.9h-0.9zM105.9 113.7h0.9v0.9h-0.9zM126.6 127.9h0.9v0.9h-0.9zM111.0 120.8h0.9v0.9h-0.9zM115.9 118.8h0.9v0.9h-0.9zM108.4 114.2h0.9v0.9h-0.9zM123.4 117.6h0.9v0.9h-0.9zM107.8 112.7h0.9v0.9h-0.9zM112.0 125.4h0.9v0.9h-0.9zM116.9 92.2h0.9v0.9h-0.9zM127.0 125.5h0.9v0.9h-0.9zM105.8 124.8h0.9v0.9h-0.9zM104.3 120.6h0.9v0.9h-0.9zM105.5 97.1h0.9v0.9h-0.9zM105.0 126.4h0.9v0.9h-0.9zM107.7 74.6h0.9v0.9h-0.9zM140.9 125.7h0.9v0.9h-0.9zM108.7 111.6h0.9v0.9h-0.9zM108.2 103.7h0.9v0.9h-0.9zM124.6 128.1h0.9v0.9h-0.9zM111.1 86.8h0.9v0.9h-0.9zM136.3 114.0h0.9v0.9h-0.9zM106.1 125.4h0.9v0.9h-0.9zM111.4 126.0h0.9v0.9h-0.9zM126.1 121.3h0.9v0.9h-0.9zM141.8 127.6h0.9v0.9h-0.9zM105.1 106.2h0.9v0.9h-0.9zM106.9 113.4h0.9v0.9h-0.9zM107.2 124.2h0.9v0.9h-0.9zM134.4 127.6h0.9v0.9h-0.9zM117.8 123.3h0.9v0.9h-0.9zM133.8 127.3h0.9v0.9h-0.9zM109.1 112.8h0.9v0.9h-0.9zM105.5 106.2h0.9v0.9h-0.9zM107.6 128.3h0.9v0.9h-0.9zM140.3 128.6h0.9v0.9h-0.9zM117.6 112.7h0.9v0.9h-0.9zM104.5 123.9h0.9v0.9h-0.9zM123.7 112.4h0.9v0.9h-0.9zM104.2 125.5h0.9v0.9h-0.9zM122.3 128.3h0.9v0.9h-0.9zM106.2 122.4h0.9v0.9h-0.9zM104.2 74.9h0.9v0.9h-0.9zM133.5 127.9h0.9v0.9h-0.9zM104.9 122.3h0.9v0.9h-0.9zM122.1 127.3h0.9v0.9h-0.9zM113.7 127.5h0.9v0.9h-0.9zM113.6 104.5h0.9v0.9h-0.9zM106.0 90.5h0.9v0.9h-0.9zM124.5 126.2h0.9v0.9h-0.9zM111.1 90.2h0.9v0.9h-0.9zM116.8 79.7h0.9v0.9h-0.9zM115.4 121.3h0.9v0.9h-0.9zM140.9 120.1h0.9v0.9h-0.9zM110.3 124.7h0.9v0.9h-0.9zM140.2 126.5h0.9v0.9h-0.9zM110.6 127.0h0.9v0.9h-0.9zM104.2 117.9h0.9v0.9h-0.9zM106.7 118.2h0.9v0.9h-0.9zM106.4 126.2h0.9v0.9h-0.9zM131.2 119.3h0.9v0.9h-0.9zM104.3 115.0h0.9v0.9h-0.9zM120.1 122.0h0.9v0.9h-0.9zM140.1 128.6h0.9v0.9h-0.9zM131.9 124.4h0.9v0.9h-0.9zM141.8 127.5h0.9v0.9h-0.9zM125.2 125.1h0.9v0.9h-0.9zM110.1 120.9h0.9v0.9h-0.9zM121.6 125.5h0.9v0.9h-0.9zM115.4 126.3h0.9v0.9h-0.9zM106.9 102.4h0.9v0.9h-0.9zM124.0 123.1h0.9v0.9h-0.9zM106.1 126.9h0.9v0.9h-0.9zM114.8 121.7h0.9v0.9h-0.9zM129.3 126.8h0.9v0.9h-0.9zM129.9 124.7h0.9v0.9h-0.9zM130.2 114.6h0.9v0.9h-0.9zM104.3 123.1h0.9v0.9h-0.9zM129.6 127.8h0.9v0.9h-0.9zM106.6 127.4h0.9v0.9h-0.9zM128.7 123.8h0.9v0.9h-0.9zM104.5 122.9h0.9v0.9h-0.9zM122.6 124.0h0.9v0.9h-0.9zM128.4 119.2h0.9v0.9h-0.9zM121.8 125.0h0.9v0.9h-0.9zM106.3 123.5h0.9v0.9h-0.9zM109.7 128.4h0.9v0.9h-0.9zM116.6 128.1h0.9v0.9h-0.9zM123.8 126.2h0.9v0.9h-0.9zM122.3 82.6h0.9v0.9h-0.9zM105.7 122.5h0.9v0.9h-0.9zM110.2 94.2h0.9v0.9h-0.9zM123.5 125.9h0.9v0.9h-0.9zM120.2 114.8h0.9v0.9h-0.9zM109.8 119.7h0.9v0.9h-0.9zM105.6 88.9h0.9v0.9h-0.9zM109.5 117.2h0.9v0.9h-0.9zM104.4 112.5h0.9v0.9h-0.9zM114.7 122.2h0.9v0.9h-0.9zM126.0 128.4h0.9v0.9h-0.9zM112.3 122.5h0.9v0.9h-0.9zM110.7 122.1h0.9v0.9h-0.9zM111.6 121.8h0.9v0.9h-0.9zM130.0 121.6h0.9v0.9h-0.9zM110.3 128.2h0.9v0.9h-0.9zM115.9 115.2h0.9v0.9h-0.9zM105.3 72.4h0.9v0.9h-0.9zM104.5 112.6h0.9v0.9h-0.9zM104.3 115.5h0.9v0.9h-0.9zM113.1 128.1h0.9v0.9h-0.9zM110.8 119.7h0.9v0.9h-0.9zM129.6 115.5h0.9v0.9h-0.9zM108.3 63.2h0.9v0.9h-0.9zM106.8 124.5h0.9v0.9h-0.9zM132.2 123.9h0.9v0.9h-0.9zM110.9 128.1h0.9v0.9h-0.9zM132.7 119.3h0.9v0.9h-0.9zM110.3 88.5h0.9v0.9h-0.9zM112.4 122.0h0.9v0.9h-0.9zM109.3 111.7h0.9v0.9h-0.9zM113.9 102.5h0.9v0.9h-0.9zM110.6 120.1h0.9v0.9h-0.9zM107.0 111.3h0.9v0.9h-0.9zM123.4 116.2h0.9v0.9h-0.9zM112.1 101.6h0.9v0.9h-0.9zM133.5 128.3h0.9v0.9h-0.9zM119.7 128.2h0.9v0.9h-0.9zM104.4 118.2h0.9v0.9h-0.9zM136.5 124.5h0.9v0.9h-0.9zM113.6 117.9h0.9v0.9h-0.9zM107.5 126.0h0.9v0.9h-0.9zM105.0 100.4h0.9v0.9h-0.9zM104.6 127.5h0.9v0.9h-0.9zM138.6 126.1h0.9v0.9h-0.9zM106.7 102.7h0.9v0.9h-0.9zM105.1 127.9h0.9v0.9h-0.9zM104.3 107.9h0.9v0.9h-0.9zM106.3 119.0h0.9v0.9h-0.9zM116.1 127.1h0.9v0.9h-0.9zM108.2 109.0h0.9v0.9h-0.9zM128.5 102.7h0.9v0.9h-0.9zM104.2 123.1h0.9v0.9h-0.9zM118.8 92.9h0.9v0.9h-0.9zM111.2 117.2h0.9v0.9h-0.9zM130.3 127.8h0.9v0.9h-0.9zM141.9 117.6h0.9v0.9h-0.9zM107.4 124.0h0.9v0.9h-0.9zM122.4 91.6h0.9v0.9h-0.9zM108.2 114.9h0.9v0.9h-0.9zM134.5 118.5h0.9v0.9h-0.9zM136.7 128.4h0.9v0.9h-0.9zM139.8 126.8h0.9v0.9h-0.9zM120.6 128.2h0.9v0.9h-0.9zM111.9 125.8h0.9v0.9h-0.9zM105.4 111.2h0.9v0.9h-0.9zM120.3 87.6h0.9v0.9h-0.9zM105.3 89.9h0.9v0.9h-0.9zM120.1 127.4h0.9v0.9h-0.9zM108.9 123.7h0.9v0.9h-0.9zM105.2 126.5h0.9v0.9h-0.9zM108.4 109.0h0.9v0.9h-0.9zM105.6 69.1h0.9v0.9h-0.9zM113.6 121.2h0.9v0.9h-0.9zM112.5 126.8h0.9v0.9h-0.9zM114.0 124.3h0.9v0.9h-0.9zM110.4 126.3h0.9v0.9h-0.9zM106.4 106.0h0.9v0.9h-0.9zM134.3 128.5h0.9v0.9h-0.9zM113.3 113.5h0.9v0.9h-0.9zM122.2 126.6h0.9v0.9h-0.9zM113.6 97.3h0.9v0.9h-0.9zM107.5 86.0h0.9v0.9h-0.9zM117.7 115.2h0.9v0.9h-0.9zM104.3 125.4h0.9v0.9h-0.9zM140.9 128.4h0.9v0.9h-0.9zM122.4 115.4h0.9v0.9h-0.9zM129.2 124.6h0.9v0.9h-0.9zM104.2 96.3h0.9v0.9h-0.9zM110.5 127.7h0.9v0.9h-0.9zM124.7 120.2h0.9v0.9h-0.9zM108.7 127.0h0.9v0.9h-0.9zM106.0 124.1h0.9v0.9h-0.9zM142.0 122.5h0.9v0.9h-0.9zM113.6 114.1h0.9v0.9h-0.9zM125.7 121.3h0.9v0.9h-0.9zM119.1 112.7h0.9v0.9h-0.9zM104.5 114.2h0.9v0.9h-0.9zM105.2 90.6h0.9v0.9h-0.9zM125.3 127.6h0.9v0.9h-0.9zM137.6 117.3h0.9v0.9h-0.9zM130.5 118.6h0.9v0.9h-0.9zM111.4 111.1h0.9v0.9h-0.9zM133.0 126.6h0.9v0.9h-0.9zM114.9 101.4h0.9v0.9h-0.9zM139.8 121.9h0.9v0.9h-0.9zM130.9 127.0h0.9v0.9h-0.9zM112.2 125.9h0.9v0.9h-0.9zM135.5 122.6h0.9v0.9h-0.9zM110.0 112.8h0.9v0.9h-0.9zM121.9 106.1h0.9v0.9h-0.9zM110.5 127.7h0.9v0.9h-0.9zM130.8 126.1h0.9v0.9h-0.9zM104.3 91.4h0.9v0.9h-0.9zM104.7 109.6h0.9v0.9h-0.9zM118.1 123.3h0.9v0.9h-0.9zM105.9 123.7h0.9v0.9h-0.9zM118.1 105.4h0.9v0.9h-0.9zM111.6 117.8h0.9v0.9h-0.9zM106.6 72.1h0.9v0.9h-0.9zM107.0 94.1h0.9v0.9h-0.9zM106.1 104.2h0.9v0.9h-0.9zM134.6 125.9h0.9v0.9h-0.9zM138.9 125.4h0.9v0.9h-0.9zM105.6 108.7h0.9v0.9h-0.9zM114.8 128.6h0.9v0.9h-0.9zM138.1 125.8h0.9v0.9h-0.9zM106.6 123.8h0.9v0.9h-0.9zM115.8 110.5h0.9v0.9h-0.9zM109.6 101.2h0.9v0.9h-0.9zM121.1 128.0h0.9v0.9h-0.9zM111.7 97.1h0.9v0.9h-0.9zM120.8 120.5h0.9v0.9h-0.9zM114.6 118.0h0.9v0.9h-0.9zM113.6 124.3h0.9v0.9h-0.9zM104.3 108.0h0.9v0.9h-0.9zM116.0 123.2h0.9v0.9h-0.9zM134.4 121.5h0.9v0.9h-0.9zM104.2 124.1h0.9v0.9h-0.9zM138.7 118.5h0.9v0.9h-0.9zM119.3 97.4h0.9v0.9h-0.9zM119.8 125.9h0.9v0.9h-0.9zM107.4 120.1h0.9v0.9h-0.9zM140.6 124.2h0.9v0.9h-0.9zM121.6 124.8h0.9v0.9h-0.9zM123.3 119.6h0.9v0.9h-0.9zM105.2 119.0h0.9v0.9h-0.9zM128.1 125.8h0.9v0.9h-0.9zM114.3 108.8h0.9v0.9h-0.9zM124.9 127.2h0.9v0.9h-0.9zM104.3 124.6h0.9v0.9h-0.9zM139.7 114.3h0.9v0.9h-0.9zM107.8 97.7h0.9v0.9h-0.9zM108.1 122.4h0.9v0.9h-0.9zM106.8 123.1h0.9v0.9h-0.9zM139.5 127.2h0.9v0.9h-0.9zM135.6 125.5h0.9v0.9h-0.9zM119.6 116.0h0.9v0.9h-0.9zM105.1 112.6h0.9v0.9h-0.9zM116.1 118.5h0.9v0.9h-0.9zM107.1 123.7h0.9v0.9h-0.9zM114.8 125.4h0.9v0.9h-0.9zM114.7 71.9h0.9v0.9h-0.9zM109.0 99.0h0.9v0.9h-0.9zM106.5 127.8h0.9v0.9h-0.9zM125.8 120.5h0.9v0.9h-0.9zM129.0 127.8h0.9v0.9h-0.9zM120.0 100.2h0.9v0.9h-0.9zM122.4 116.9h0.9v0.9h-0.9zM137.8 122.2h0.9v0.9h-0.9zM110.1 111.7h0.9v0.9h-0.9zM105.5 105.6h0.9v0.9h-0.9zM114.5 118.2h0.9v0.9h-0.9zM113.2 96.1h0.9v0.9h-0.9zM131.8 122.0h0.9v0.9h-0.9zM110.4 119.9h0.9v0.9h-0.9zM131.3 119.2h0.9v0.9h-0.9zM105.1 116.0h0.9v0.9h-0.9zM113.7 106.8h0.9v0.9h-0.9zM125.2 116.1h0.9v0.9h-0.9zM133.5 127.8h0.9v0.9h-0.9zM123.0 121.3h0.9v0.9h-0.9zM104.4 118.0h0.9v0.9h-0.9zM107.0 126.0h0.9v0.9h-0.9zM104.5 115.8h0.9v0.9h-0.9zM128.6 125.7h0.9v0.9h-0.9zM104.4 107.8h0.9v0.9h-0.9zM104.2 117.2h0.9v0.9h-0.9zM107.1 127.9h0.9v0.9h-0.9zM105.5 71.9h0.9v0.9h-0.9zM106.1 117.6h0.9v0.9h-0.9zM108.4 119.7h0.9v0.9h-0.9zM128.1 127.0h0.9v0.9h-0.9zM104.4 74.6h0.9v0.9h-0.9zM118.7 83.0h0.9v0.9h-0.9zM117.2 124.1h0.9v0.9h-0.9zM117.4 126.3h0.9v0.9h-0.9zM141.9 122.2h0.9v0.9h-0.9zM105.8 92.0h0.9v0.9h-0.9zM112.0 117.2h0.9v0.9h-0.9zM112.1 124.5h0.9v0.9h-0.9zM110.4 125.2h0.9v0.9h-0.9zM124.8 123.3h0.9v0.9h-0.9zM105.7 115.0h0.9v0.9h-0.9zM106.9 119.6h0.9v0.9h-0.9zM140.2 122.7h0.9v0.9h-0.9zM136.4 122.2h0.9v0.9h-0.9zM118.6 69.9h0.9v0.9h-0.9zM119.3 126.0h0.9v0.9h-0.9zM105.2 117.3h0.9v0.9h-0.9zM107.8 128.1h0.9v0.9h-0.9zM109.0 104.5h0.9v0.9h-0.9zM112.1 127.5h0.9v0.9h-0.9zM105.1 111.6h0.9v0.9h-0.9zM141.5 118.9h0.9v0.9h-0.9zM112.8 111.8h0.9v0.9h-0.9zM104.7 119.2h0.9v0.9h-0.9zM118.3 67.5h0.9v0.9h-0.9zM138.2 110.2h0.9v0.9h-0.9zM124.6 125.0h0.9v0.9h-0.9zM115.2 109.4h0.9v0.9h-0.9zM109.7 128.5h0.9v0.9h-0.9zM113.9 68.5h0.9v0.9h-0.9zM104.4 124.1h0.9v0.9h-0.9zM134.0 125.0h0.9v0.9h-0.9zM105.8 125.5h0.9v0.9h-0.9zM109.8 127.5h0.9v0.9h-0.9zM104.8 126.1h0.9v0.9h-0.9zM117.2 119.6h0.9v0.9h-0.9zM111.5 127.9h0.9v0.9h-0.9zM104.3 121.3h0.9v0.9h-0.9zM121.4 118.6h0.9v0.9h-0.9zM120.2 118.9h0.9v0.9h-0.9zM105.0 101.5h0.9v0.9h-0.9zM104.3 125.5h0.9v0.9h-0.9zM106.2 123.1h0.9v0.9h-0.9zM130.0 122.3h0.9v0.9h-0.9zM104.3 127.5h0.9v0.9h-0.9zM124.2 107.5h0.9v0.9h-0.9zM106.0 116.2h0.9v0.9h-0.9zM119.7 107.6h0.9v0.9h-0.9zM105.1 128.4h0.9v0.9h-0.9zM104.6 87.4h0.9v0.9h-0.9zM105.5 110.2h0.9v0.9h-0.9zM114.2 127.5h0.9v0.9h-0.9zM114.5 70.6h0.9v0.9h-0.9zM129.8 124.2h0.9v0.9h-0.9zM114.2 122.2h0.9v0.9h-0.9zM104.4 76.4h0.9v0.9h-0.9zM130.4 118.2h0.9v0.9h-0.9zM104.8 116.7h0.9v0.9h-0.9zM111.2 127.4h0.9v0.9h-0.9zM122.0 77.3h0.9v0.9h-0.9zM131.5 128.0h0.9v0.9h-0.9zM107.7 113.1h0.9v0.9h-0.9zM118.2 95.3h0.9v0.9h-0.9zM104.2 127.7h0.9v0.9h-0.9zM122.4 121.5h0.9v0.9h-0.9zM112.1 123.4h0.9v0.9h-0.9zM120.2 108.1h0.9v0.9h-0.9zM128.3 112.4h0.9v0.9h-0.9zM123.7 128.4h0.9v0.9h-0.9zM131.7 125.2h0.9v0.9h-0.9zM105.4 96.5h0.9v0.9h-0.9zM123.2 126.4h0.9v0.9h-0.9zM125.7 94.2h0.9v0.9h-0.9zM120.5 106.5h0.9v0.9h-0.9zM130.8 96.9h0.9v0.9h-0.9zM107.1 125.5h0.9v0.9h-0.9zM104.2 125.6h0.9v0.9h-0.9zM136.4 126.6h0.9v0.9h-0.9zM127.0 113.4h0.9v0.9h-0.9zM115.0 127.6h0.9v0.9h-0.9zM107.9 118.0h0.9v0.9h-0.9zM115.2 97.4h0.9v0.9h-0.9zM114.9 118.8h0.9v0.9h-0.9zM137.6 126.1h0.9v0.9h-0.9zM108.5 109.5h0.9v0.9h-0.9zM135.4 128.5h0.9v0.9h-0.9zM123.7 94.0h0.9v0.9h-0.9zM111.5 117.0h0.9v0.9h-0.9zM125.3 118.5h0.9v0.9h-0.9zM106.7 128.3h0.9v0.9h-0.9zM105.9 125.3h0.9v0.9h-0.9zM119.9 121.2h0.9v0.9h-0.9zM117.8 118.2h0.9v0.9h-0.9zM105.9 99.4h0.9v0.9h-0.9zM104.7 120.9h0.9v0.9h-0.9zM122.2 126.1h0.9v0.9h-0.9zM105.4 127.4h0.9v0.9h-0.9zM110.6 116.7h0.9v0.9h-0.9zM124.4 127.9h0.9v0.9h-0.9zM107.4 71.8h0.9v0.9h-0.9zM132.0 119.0h0.9v0.9h-0.9zM107.1 128.5h0.9v0.9h-0.9zM135.3 127.7h0.9v0.9h-0.9zM117.3 119.0h0.9v0.9h-0.9zM105.0 127.4h0.9v0.9h-0.9zM109.8 117.7h0.9v0.9h-0.9zM105.8 70.5h0.9v0.9h-0.9zM139.4 126.6h0.9v0.9h-0.9zM104.9 111.1h0.9v0.9h-0.9zM109.3 120.9h0.9v0.9h-0.9zM106.5 111.1h0.9v0.9h-0.9zM109.7 113.6h0.9v0.9h-0.9zM105.6 125.8h0.9v0.9h-0.9zM109.3 117.9h0.9v0.9h-0.9zM132.9 128.3h0.9v0.9h-0.9zM105.5 94.5h0.9v0.9h-0.9zM112.7 116.7h0.9v0.9h-0.9zM105.3 125.7h0.9v0.9h-0.9zM104.7 127.8h0.9v0.9h-0.9zM112.6 101.6h0.9v0.9h-0.9zM104.4 125.7h0.9v0.9h-0.9zM116.2 110.1h0.9v0.9h-0.9zM132.2 127.9h0.9v0.9h-0.9zM114.7 126.0h0.9v0.9h-0.9zM124.1 105.8h0.9v0.9h-0.9zM109.2 93.6h0.9v0.9h-0.9zM105.8 116.5h0.9v0.9h-0.9zM104.7 81.5h0.9v0.9h-0.9zM105.4 128.5h0.9v0.9h-0.9zM114.3 128.4h0.9v0.9h-0.9zM125.0 123.0h0.9v0.9h-0.9zM113.7 119.7h0.9v0.9h-0.9zM105.0 110.2h0.9v0.9h-0.9zM125.0 114.4h0.9v0.9h-0.9zM135.2 127.5h0.9v0.9h-0.9zM104.5 109.2h0.9v0.9h-0.9zM111.5 127.1h0.9v0.9h-0.9zM125.5 122.3h0.9v0.9h-0.9zM107.5 65.3h0.9v0.9h-0.9zM112.8 121.6h0.9v0.9h-0.9zM113.4 82.3h0.9v0.9h-0.9zM106.0 108.7h0.9v0.9h-0.9zM112.1 126.1h0.9v0.9h-0.9zM108.1 123.0h0.9v0.9h-0.9zM121.2 128.4h0.9v0.9h-0.9zM108.0 84.3h0.9v0.9h-0.9zM112.0 120.4h0.9v0.9h-0.9zM104.9 125.5h0.9v0.9h-0.9zM139.2 127.9h0.9v0.9h-0.9zM114.6 120.4h0.9v0.9h-0.9zM104.3 125.5h0.9v0.9h-0.9zM117.2 123.3h0.9v0.9h-0.9zM134.2 122.7h0.9v0.9h-0.9zM139.0 127.2h0.9v0.9h-0.9zM110.5 128.1h0.9v0.9h-0.9zM104.6 128.4h0.9v0.9h-0.9zM107.4 91.7h0.9v0.9h-0.9zM110.9 121.0h0.9v0.9h-0.9zM129.0 121.7h0.9v0.9h-0.9zM104.7 125.4h0.9v0.9h-0.9zM117.3 114.3h0.9v0.9h-0.9zM114.8 68.1h0.9v0.9h-0.9zM105.5 115.4h0.9v0.9h-0.9zM106.3 123.6h0.9v0.9h-0.9zM121.6 128.0h0.9v0.9h-0.9zM119.0 123.2h0.9v0.9h-0.9zM128.5 128.5h0.9v0.9h-0.9zM121.7 118.8h0.9v0.9h-0.9zM105.4 92.9h0.9v0.9h-0.9zM106.3 122.4h0.9v0.9h-0.9zM105.8 122.7h0.9v0.9h-0.9zM135.0 127.2h0.9v0.9h-0.9zM109.1 117.2h0.9v0.9h-0.9zM104.8 125.7h0.9v0.9h-0.9zM106.9 128.2h0.9v0.9h-0.9zM124.6 85.8h0.9v0.9h-0.9zM116.8 124.7h0.9v0.9h-0.9zM111.5 126.7h0.9v0.9h-0.9zM104.2 115.7h0.9v0.9h-0.9zM109.4 94.4h0.9v0.9h-0.9zM130.7 122.3h0.9v0.9h-0.9zM123.1 102.5h0.9v0.9h-0.9zM126.5 126.1h0.9v0.9h-0.9zM129.8 122.8h0.9v0.9h-0.9zM133.3 123.6h0.9v0.9h-0.9zM104.2 119.8h0.9v0.9h-0.9zM117.9 112.4h0.9v0.9h-0.9zM104.2 125.6h0.9v0.9h-0.9zM124.3 117.0h0.9v0.9h-0.9zM140.0 127.9h0.9v0.9h-0.9zM114.6 125.0h0.9v0.9h-0.9zM106.3 119.5h0.9v0.9h-0.9zM104.5 117.5h0.9v0.9h-0.9zM106.8 111.4h0.9v0.9h-0.9zM108.6 121.4h0.9v0.9h-0.9zM117.8 113.8h0.9v0.9h-0.9zM109.8 115.6h0.9v0.9h-0.9zM106.8 85.5h0.9v0.9h-0.9zM123.2 116.1h0.9v0.9h-0.9zM106.2 127.5h0.9v0.9h-0.9z" fill="#4b4a50" fill-opacity="0.85"/><circle cx="113.6" cy="97.6" r="1.2" fill="#e0332d"/><circle cx="108.5" cy="119.2" r="1.2" fill="#d14fc4"/><line x1="116" y1="96.4" x2="127.6" y2="93.2" stroke="#333" stroke-width="0.9"/><line x1="115" y1="117.3" x2="134" y2="112.8" stroke="#333" stroke-width="0.9"/><text x="127.65" y="94.20" font-size="7.9" fill="#231f20" stroke="#231f20" textLength="13.90" lengthAdjust="spacingAndGlyphs" >Spi1</text><text x="134.35" y="115.60" font-size="7.9" fill="#231f20" stroke="#231f20" textLength="12.30" lengthAdjust="spacingAndGlyphs" >Elf1</text><path d="M46.9 56.9V129.7H143.8" fill="none" stroke="#231f20" stroke-width="1.3"/><line x1="44.6" y1="60.0" x2="46.5" y2="60.0" stroke="#231f20" stroke-width="1"/><line x1="44.6" y1="86.3" x2="46.5" y2="86.3" stroke="#231f20" stroke-width="1"/><line x1="44.6" y1="108.0" x2="46.5" y2="108.0" stroke="#231f20" stroke-width="1"/><line x1="44.6" y1="129.4" x2="46.5" y2="129.4" stroke="#231f20" stroke-width="1"/><line x1="56.5" y1="129.7" x2="56.5" y2="131.8" stroke="#231f20" stroke-width="1"/><line x1="74.9" y1="129.7" x2="74.9" y2="131.8" stroke="#231f20" stroke-width="1"/><line x1="93.3" y1="129.7" x2="93.3" y2="131.8" stroke="#231f20" stroke-width="1"/><line x1="111.9" y1="129.7" x2="111.9" y2="131.8" stroke="#231f20" stroke-width="1"/><line x1="130.5" y1="129.7" x2="130.5" y2="131.8" stroke="#231f20" stroke-width="1"/><text x="23.55" y="64.20" font-size="9.0" fill="#231f20" stroke="#231f20" textLength="8.00" lengthAdjust="spacingAndGlyphs" >10</text><text x="31.65" y="60.60" font-size="6.2" fill="#231f20" stroke="#231f20" textLength="9.30" lengthAdjust="spacingAndGlyphs" >-30</text><text x="23.55" y="90.50" font-size="9.0" fill="#231f20" stroke="#231f20" textLength="8.00" lengthAdjust="spacingAndGlyphs" >10</text><text x="31.65" y="86.90" font-size="6.2" fill="#231f20" stroke="#231f20" textLength="9.30" lengthAdjust="spacingAndGlyphs" >-20</text><text x="23.55" y="112.20" font-size="9.0" fill="#231f20" stroke="#231f20" textLength="8.00" lengthAdjust="spacingAndGlyphs" >10</text><text x="31.65" y="108.60" font-size="6.2" fill="#231f20" stroke="#231f20" textLength="9.30" lengthAdjust="spacingAndGlyphs" >-10</text><text x="30.15" y="133.60" font-size="9.0" fill="#231f20" stroke="#231f20" textLength="8.00" lengthAdjust="spacingAndGlyphs" >10</text><text x="37.95" y="129.80" font-size="6.2" fill="#231f20" stroke="#231f20" textLength="3.90" lengthAdjust="spacingAndGlyphs" >0</text><text x="50.15" y="143.20" font-size="7.9" fill="#231f20" stroke="#231f20" textLength="12.00" lengthAdjust="spacingAndGlyphs" >-10</text><text x="71.15" y="143.20" font-size="7.9" fill="#231f20" stroke="#231f20" textLength="7.50" lengthAdjust="spacingAndGlyphs" >-5</text><text x="90.75" y="143.20" font-size="7.9" fill="#231f20" stroke="#231f20" textLength="4.90" lengthAdjust="spacingAndGlyphs" >0</text><text x="110.05" y="143.20" font-size="7.9" fill="#231f20" stroke="#231f20" textLength="4.40" lengthAdjust="spacingAndGlyphs" >5</text><text x="126.05" y="143.20" font-size="7.9" fill="#231f20" stroke="#231f20" textLength="9.30" lengthAdjust="spacingAndGlyphs" >10</text><text x="58.25" y="156.30" font-size="9.2" fill="#231f20" stroke="#231f20" textLength="72.60" lengthAdjust="spacingAndGlyphs" >Log2 fold change</text><text transform="translate(16.0 92.0) rotate(-90)" font-size="9.0" text-anchor="middle" fill="#231f20" stroke="#231f20" textLength="27.3" lengthAdjust="spacingAndGlyphs"><tspan font-style="italic">P</tspan>value</text><text x="48.55" y="43.10" font-size="7.9" fill="#231f20" stroke="#231f20" textLength="21.00" lengthAdjust="spacingAndGlyphs" >Down</text><text x="48.55" y="53.30" font-size="7.9" fill="#4b4a9c" stroke="#4b4a9c" textLength="17.60" lengthAdjust="spacingAndGlyphs" >1252</text><text x="86.65" y="43.10" font-size="7.9" fill="#231f20" stroke="#231f20" textLength="21.80" lengthAdjust="spacingAndGlyphs" >L-MEP</text><text x="128.05" y="43.10" font-size="7.9" fill="#231f20" stroke="#231f20" textLength="10.70" lengthAdjust="spacingAndGlyphs" >Up</text><text x="124.65" y="53.30" font-size="7.9" fill="#c43c3c" stroke="#c43c3c" textLength="17.70" lengthAdjust="spacingAndGlyphs" >2135</text><rect x="195.80" y="68.20" width="6.99" height="7.47" fill="#ffffff"/><rect x="202.79" y="68.20" width="6.99" height="7.47" fill="#99add7"/><rect x="209.78" y="68.20" width="6.99" height="7.47" fill="#dc9390"/><rect x="216.77" y="68.20" width="6.99" height="7.47" fill="#e3acaa"/><rect x="223.76" y="68.20" width="6.99" height="7.47" fill="#dc9390"/><rect x="230.75" y="68.20" width="6.99" height="7.47" fill="#eac5c4"/><rect x="237.74" y="68.20" width="6.99" height="7.47" fill="#e3acaa"/><rect x="244.73" y="68.20" width="6.99" height="7.47" fill="#dc9390"/><rect x="251.72" y="68.20" width="6.99" height="7.47" fill="#dc9390"/><rect x="258.71" y="68.20" width="6.99" height="7.47" fill="#d57976"/><rect x="265.70" y="68.20" width="6.99" height="7.47" fill="#dc9390"/><rect x="272.69" y="68.20" width="6.99" height="7.47" fill="#dc9390"/><rect x="279.68" y="68.20" width="6.99" height="7.47" fill="#e3acaa"/><rect x="286.67" y="68.20" width="6.99" height="7.47" fill="#c9d3e7"/><rect x="293.66" y="68.20" width="6.99" height="7.47" fill="#c9d3e7"/><rect x="300.65" y="68.20" width="6.99" height="7.47" fill="#c9d3e7"/><rect x="195.80" y="75.67" width="6.99" height="7.47" fill="#dc9390"/><rect x="202.79" y="75.67" width="6.99" height="7.47" fill="#ffffff"/><rect x="209.78" y="75.67" width="6.99" height="7.47" fill="#d57976"/><rect x="216.77" y="75.67" width="6.99" height="7.47" fill="#d57976"/><rect x="223.76" y="75.67" width="6.99" height="7.47" fill="#d57976"/><rect x="230.75" y="75.67" width="6.99" height="7.47" fill="#dc9390"/><rect x="237.74" y="75.67" width="6.99" height="7.47" fill="#dc9390"/><rect x="244.73" y="75.67" width="6.99" height="7.47" fill="#d57976"/><rect x="251.72" y="75.67" width="6.99" height="7.47" fill="#d57976"/><rect x="258.71" y="75.67" width="6.99" height="7.47" fill="#d57976"/><rect x="265.70" y="75.67" width="6.99" height="7.47" fill="#d57976"/><rect x="272.69" y="75.67" width="6.99" height="7.47" fill="#d57976"/><rect x="279.68" y="75.67" width="6.99" height="7.47" fill="#dc9390"/><rect x="286.67" y="75.67" width="6.99" height="7.47" fill="#e3acaa"/><rect x="293.66" y="75.67" width="6.99" height="7.47" fill="#eac5c4"/><rect x="300.65" y="75.67" width="6.99" height="7.47" fill="#e3acaa"/><rect x="195.80" y="83.14" width="6.99" height="7.47" fill="#829bce"/><rect x="202.79" y="83.14" width="6.99" height="7.47" fill="#6a88c6"/><rect x="209.78" y="83.14" width="6.99" height="7.47" fill="#ffffff"/><rect x="216.77" y="83.14" width="6.99" height="7.47" fill="#c9d3e7"/><rect x="223.76" y="83.14" width="6.99" height="7.47" fill="#e3acaa"/><rect x="230.75" y="83.14" width="6.99" height="7.47" fill="#99add7"/><rect x="237.74" y="83.14" width="6.99" height="7.47" fill="#c9d3e7"/><rect x="244.73" y="83.14" width="6.99" height="7.47" fill="#e3acaa"/><rect x="251.72" y="83.14" width="6.99" height="7.47" fill="#b1c0df"/><rect x="258.71" y="83.14" width="6.99" height="7.47" fill="#e3acaa"/><rect x="265.70" y="83.14" width="6.99" height="7.47" fill="#eac5c4"/><rect x="272.69" y="83.14" width="6.99" height="7.47" fill="#eac5c4"/><rect x="279.68" y="83.14" width="6.99" height="7.47" fill="#c9d3e7"/><rect x="286.67" y="83.14" width="6.99" height="7.47" fill="#99add7"/><rect x="293.66" y="83.14" width="6.99" height="7.47" fill="#c9d3e7"/><rect x="300.65" y="83.14" width="6.99" height="7.47" fill="#b1c0df"/><rect x="195.80" y="90.61" width="6.99" height="7.47" fill="#99add7"/><rect x="202.79" y="90.61" width="6.99" height="7.47" fill="#6a88c6"/><rect x="209.78" y="90.61" width="6.99" height="7.47" fill="#eac5c4"/><rect x="216.77" y="90.61" width="6.99" height="7.47" fill="#ffffff"/><rect x="223.76" y="90.61" width="6.99" height="7.47" fill="#d57976"/><rect x="230.75" y="90.61" width="6.99" height="7.47" fill="#99add7"/><rect x="237.74" y="90.61" width="6.99" height="7.47" fill="#eac5c4"/><rect x="244.73" y="90.61" width="6.99" height="7.47" fill="#dc9390"/><rect x="251.72" y="90.61" width="6.99" height="7.47" fill="#eac5c4"/><rect x="258.71" y="90.61" width="6.99" height="7.47" fill="#e3acaa"/><rect x="265.70" y="90.61" width="6.99" height="7.47" fill="#eac5c4"/><rect x="272.69" y="90.61" width="6.99" height="7.47" fill="#e3acaa"/><rect x="279.68" y="90.61" width="6.99" height="7.47" fill="#eac5c4"/><rect x="286.67" y="90.61" width="6.99" height="7.47" fill="#b1c0df"/><rect x="293.66" y="90.61" width="6.99" height="7.47" fill="#c9d3e7"/><rect x="300.65" y="90.61" width="6.99" height="7.47" fill="#c9d3e7"/><rect x="195.80" y="98.08" width="6.99" height="7.47" fill="#6a88c6"/><rect x="202.79" y="98.08" width="6.99" height="7.47" fill="#6a88c6"/><rect x="209.78" y="98.08" width="6.99" height="7.47" fill="#b1c0df"/><rect x="216.77" y="98.08" width="6.99" height="7.47" fill="#6a88c6"/><rect x="223.76" y="98.08" width="6.99" height="7.47" fill="#ffffff"/><rect x="230.75" y="98.08" width="6.99" height="7.47" fill="#6a88c6"/><rect x="237.74" y="98.08" width="6.99" height="7.47" fill="#b1c0df"/><rect x="244.73" y="98.08" width="6.99" height="7.47" fill="#e3acaa"/><rect x="251.72" y="98.08" width="6.99" height="7.47" fill="#99add7"/><rect x="258.71" y="98.08" width="6.99" height="7.47" fill="#eac5c4"/><rect x="265.70" y="98.08" width="6.99" height="7.47" fill="#eed5d4"/><rect x="272.69" y="98.08" width="6.99" height="7.47" fill="#eac5c4"/><rect x="279.68" y="98.08" width="6.99" height="7.47" fill="#c9d3e7"/><rect x="286.67" y="98.08" width="6.99" height="7.47" fill="#829bce"/><rect x="293.66" y="98.08" width="6.99" height="7.47" fill="#b1c0df"/><rect x="300.65" y="98.08" width="6.99" height="7.47" fill="#b1c0df"/><rect x="195.80" y="105.55" width="6.99" height="7.47" fill="#c9d3e7"/><rect x="202.79" y="105.55" width="6.99" height="7.47" fill="#99add7"/><rect x="209.78" y="105.55" width="6.99" height="7.47" fill="#dc9390"/><rect x="216.77" y="105.55" width="6.99" height="7.47" fill="#dc9390"/><rect x="223.76" y="105.55" width="6.99" height="7.47" fill="#d57976"/><rect x="230.75" y="105.55" width="6.99" height="7.47" fill="#ffffff"/><rect x="237.74" y="105.55" width="6.99" height="7.47" fill="#e3acaa"/><rect x="244.73" y="105.55" width="6.99" height="7.47" fill="#d57976"/><rect x="251.72" y="105.55" width="6.99" height="7.47" fill="#e3acaa"/><rect x="258.71" y="105.55" width="6.99" height="7.47" fill="#dc9390"/><rect x="265.70" y="105.55" width="6.99" height="7.47" fill="#e3acaa"/><rect x="272.69" y="105.55" width="6.99" height="7.47" fill="#e3acaa"/><rect x="279.68" y="105.55" width="6.99" height="7.47" fill="#e3acaa"/><rect x="286.67" y="105.55" width="6.99" height="7.47" fill="#c9d3e7"/><rect x="293.66" y="105.55" width="6.99" height="7.47" fill="#c9d3e7"/><rect x="300.65" y="105.55" width="6.99" height="7.47" fill="#c9d3e7"/><rect x="195.80" y="113.02" width="6.99" height="7.47" fill="#c9d3e7"/><rect x="202.79" y="113.02" width="6.99" height="7.47" fill="#99add7"/><rect x="209.78" y="113.02" width="6.99" height="7.47" fill="#eac5c4"/><rect x="216.77" y="113.02" width="6.99" height="7.47" fill="#c9d3e7"/><rect x="223.76" y="113.02" width="6.99" height="7.47" fill="#e3acaa"/><rect x="230.75" y="113.02" width="6.99" height="7.47" fill="#99add7"/><rect x="237.74" y="113.02" width="6.99" height="7.47" fill="#ffffff"/><rect x="244.73" y="113.02" width="6.99" height="7.47" fill="#d57976"/><rect x="251.72" y="113.02" width="6.99" height="7.47" fill="#c9d3e7"/><rect x="258.71" y="113.02" width="6.99" height="7.47" fill="#e3acaa"/><rect x="265.70" y="113.02" width="6.99" height="7.47" fill="#eac5c4"/><rect x="272.69" y="113.02" width="6.99" height="7.47" fill="#eac5c4"/><rect x="279.68" y="113.02" width="6.99" height="7.47" fill="#eac5c4"/><rect x="286.67" y="113.02" width="6.99" height="7.47" fill="#c9d3e7"/><rect x="293.66" y="113.02" width="6.99" height="7.47" fill="#b1c0df"/><rect x="300.65" y="113.02" width="6.99" height="7.47" fill="#b1c0df"/><rect x="195.80" y="120.49" width="6.99" height="7.47" fill="#6a88c6"/><rect x="202.79" y="120.49" width="6.99" height="7.47" fill="#6a88c6"/><rect x="209.78" y="120.49" width="6.99" height="7.47" fill="#99add7"/><rect x="216.77" y="120.49" width="6.99" height="7.47" fill="#99add7"/><rect x="223.76" y="120.49" width="6.99" height="7.47" fill="#b1c0df"/><rect x="230.75" y="120.49" width="6.99" height="7.47" fill="#829bce"/><rect x="237.74" y="120.49" width="6.99" height="7.47" fill="#99add7"/><rect x="244.73" y="120.49" width="6.99" height="7.47" fill="#ffffff"/><rect x="251.72" y="120.49" width="6.99" height="7.47" fill="#99add7"/><rect x="258.71" y="120.49" width="6.99" height="7.47" fill="#eed5d4"/><rect x="265.70" y="120.49" width="6.99" height="7.47" fill="#c9d3e7"/><rect x="272.69" y="120.49" width="6.99" height="7.47" fill="#c9d3e7"/><rect x="279.68" y="120.49" width="6.99" height="7.47" fill="#b1c0df"/><rect x="286.67" y="120.49" width="6.99" height="7.47" fill="#99add7"/><rect x="293.66" y="120.49" width="6.99" height="7.47" fill="#99add7"/><rect x="300.65" y="120.49" width="6.99" height="7.47" fill="#99add7"/><rect x="195.80" y="127.96" width="6.99" height="7.47" fill="#99add7"/><rect x="202.79" y="127.96" width="6.99" height="7.47" fill="#829bce"/><rect x="209.78" y="127.96" width="6.99" height="7.47" fill="#e3acaa"/><rect x="216.77" y="127.96" width="6.99" height="7.47" fill="#c9d3e7"/><rect x="223.76" y="127.96" width="6.99" height="7.47" fill="#dc9390"/><rect x="230.75" y="127.96" width="6.99" height="7.47" fill="#99add7"/><rect x="237.74" y="127.96" width="6.99" height="7.47" fill="#eac5c4"/><rect x="244.73" y="127.96" width="6.99" height="7.47" fill="#d57976"/><rect x="251.72" y="127.96" width="6.99" height="7.47" fill="#ffffff"/><rect x="258.71" y="127.96" width="6.99" height="7.47" fill="#dc9390"/><rect x="265.70" y="127.96" width="6.99" height="7.47" fill="#e3acaa"/><rect x="272.69" y="127.96" width="6.99" height="7.47" fill="#e3acaa"/><rect x="279.68" y="127.96" width="6.99" height="7.47" fill="#eac5c4"/><rect x="286.67" y="127.96" width="6.99" height="7.47" fill="#99add7"/><rect x="293.66" y="127.96" width="6.99" height="7.47" fill="#c9d3e7"/><rect x="300.65" y="127.96" width="6.99" height="7.47" fill="#b1c0df"/><rect x="195.80" y="135.43" width="6.99" height="7.47" fill="#829bce"/><rect x="202.79" y="135.43" width="6.99" height="7.47" fill="#829bce"/><rect x="209.78" y="135.43" width="6.99" height="7.47" fill="#99add7"/><rect x="216.77" y="135.43" width="6.99" height="7.47" fill="#99add7"/><rect x="223.76" y="135.43" width="6.99" height="7.47" fill="#b1c0df"/><rect x="230.75" y="135.43" width="6.99" height="7.47" fill="#99add7"/><rect x="237.74" y="135.43" width="6.99" height="7.47" fill="#b1c0df"/><rect x="244.73" y="135.43" width="6.99" height="7.47" fill="#c9d3e7"/><rect x="251.72" y="135.43" width="6.99" height="7.47" fill="#99add7"/><rect x="258.71" y="135.43" width="6.99" height="7.47" fill="#ffffff"/><rect x="265.70" y="135.43" width="6.99" height="7.47" fill="#b1c0df"/><rect x="272.69" y="135.43" width="6.99" height="7.47" fill="#b1c0df"/><rect x="279.68" y="135.43" width="6.99" height="7.47" fill="#99add7"/><rect x="286.67" y="135.43" width="6.99" height="7.47" fill="#99add7"/><rect x="293.66" y="135.43" width="6.99" height="7.47" fill="#b1c0df"/><rect x="300.65" y="135.43" width="6.99" height="7.47" fill="#b1c0df"/><rect x="195.80" y="142.90" width="6.99" height="7.47" fill="#99add7"/><rect x="202.79" y="142.90" width="6.99" height="7.47" fill="#829bce"/><rect x="209.78" y="142.90" width="6.99" height="7.47" fill="#b1c0df"/><rect x="216.77" y="142.90" width="6.99" height="7.47" fill="#b1c0df"/><rect x="223.76" y="142.90" width="6.99" height="7.47" fill="#c9d3e7"/><rect x="230.75" y="142.90" width="6.99" height="7.47" fill="#99add7"/><rect x="237.74" y="142.90" width="6.99" height="7.47" fill="#b1c0df"/><rect x="244.73" y="142.90" width="6.99" height="7.47" fill="#e3acaa"/><rect x="251.72" y="142.90" width="6.99" height="7.47" fill="#b1c0df"/><rect x="258.71" y="142.90" width="6.99" height="7.47" fill="#e3acaa"/><rect x="265.70" y="142.90" width="6.99" height="7.47" fill="#ffffff"/><rect x="272.69" y="142.90" width="6.99" height="7.47" fill="#c9d3e7"/><rect x="279.68" y="142.90" width="6.99" height="7.47" fill="#b1c0df"/><rect x="286.67" y="142.90" width="6.99" height="7.47" fill="#99add7"/><rect x="293.66" y="142.90" width="6.99" height="7.47" fill="#b1c0df"/><rect x="300.65" y="142.90" width="6.99" height="7.47" fill="#b1c0df"/><rect x="195.80" y="150.37" width="6.99" height="7.47" fill="#99add7"/><rect x="202.79" y="150.37" width="6.99" height="7.47" fill="#829bce"/><rect x="209.78" y="150.37" width="6.99" height="7.47" fill="#b1c0df"/><rect x="216.77" y="150.37" width="6.99" height="7.47" fill="#b1c0df"/><rect x="223.76" y="150.37" width="6.99" height="7.47" fill="#c9d3e7"/><rect x="230.75" y="150.37" width="6.99" height="7.47" fill="#99add7"/><rect x="237.74" y="150.37" width="6.99" height="7.47" fill="#b1c0df"/><rect x="244.73" y="150.37" width="6.99" height="7.47" fill="#e3acaa"/><rect x="251.72" y="150.37" width="6.99" height="7.47" fill="#b1c0df"/><rect x="258.71" y="150.37" width="6.99" height="7.47" fill="#e3acaa"/><rect x="265.70" y="150.37" width="6.99" height="7.47" fill="#eac5c4"/><rect x="272.69" y="150.37" width="6.99" height="7.47" fill="#ffffff"/><rect x="279.68" y="150.37" width="6.99" height="7.47" fill="#b1c0df"/><rect x="286.67" y="150.37" width="6.99" height="7.47" fill="#99add7"/><rect x="293.66" y="150.37" width="6.99" height="7.47" fill="#b1c0df"/><rect x="300.65" y="150.37" width="6.99" height="7.47" fill="#b1c0df"/><rect x="195.80" y="157.84" width="6.99" height="7.47" fill="#b1c0df"/><rect x="202.79" y="157.84" width="6.99" height="7.47" fill="#99add7"/><rect x="209.78" y="157.84" width="6.99" height="7.47" fill="#eac5c4"/><rect x="216.77" y="157.84" width="6.99" height="7.47" fill="#c9d3e7"/><rect x="223.76" y="157.84" width="6.99" height="7.47" fill="#e3acaa"/><rect x="230.75" y="157.84" width="6.99" height="7.47" fill="#b1c0df"/><rect x="237.74" y="157.84" width="6.99" height="7.47" fill="#c9d3e7"/><rect x="244.73" y="157.84" width="6.99" height="7.47" fill="#e3acaa"/><rect x="251.72" y="157.84" width="6.99" height="7.47" fill="#c9d3e7"/><rect x="258.71" y="157.84" width="6.99" height="7.47" fill="#dc9390"/><rect x="265.70" y="157.84" width="6.99" height="7.47" fill="#e3acaa"/><rect x="272.69" y="157.84" width="6.99" height="7.47" fill="#e3acaa"/><rect x="279.68" y="157.84" width="6.99" height="7.47" fill="#ffffff"/><rect x="286.67" y="157.84" width="6.99" height="7.47" fill="#b1c0df"/><rect x="293.66" y="157.84" width="6.99" height="7.47" fill="#b1c0df"/><rect x="300.65" y="157.84" width="6.99" height="7.47" fill="#b1c0df"/><rect x="195.80" y="165.31" width="6.99" height="7.47" fill="#eac5c4"/><rect x="202.79" y="165.31" width="6.99" height="7.47" fill="#99add7"/><rect x="209.78" y="165.31" width="6.99" height="7.47" fill="#e3acaa"/><rect x="216.77" y="165.31" width="6.99" height="7.47" fill="#e3acaa"/><rect x="223.76" y="165.31" width="6.99" height="7.47" fill="#dc9390"/><rect x="230.75" y="165.31" width="6.99" height="7.47" fill="#eac5c4"/><rect x="237.74" y="165.31" width="6.99" height="7.47" fill="#eac5c4"/><rect x="244.73" y="165.31" width="6.99" height="7.47" fill="#dc9390"/><rect x="251.72" y="165.31" width="6.99" height="7.47" fill="#e3acaa"/><rect x="258.71" y="165.31" width="6.99" height="7.47" fill="#dc9390"/><rect x="265.70" y="165.31" width="6.99" height="7.47" fill="#e3acaa"/><rect x="272.69" y="165.31" width="6.99" height="7.47" fill="#dc9390"/><rect x="279.68" y="165.31" width="6.99" height="7.47" fill="#e3acaa"/><rect x="286.67" y="165.31" width="6.99" height="7.47" fill="#ffffff"/><rect x="293.66" y="165.31" width="6.99" height="7.47" fill="#c9d3e7"/><rect x="300.65" y="165.31" width="6.99" height="7.47" fill="#b1c0df"/><rect x="195.80" y="172.78" width="6.99" height="7.47" fill="#eac5c4"/><rect x="202.79" y="172.78" width="6.99" height="7.47" fill="#c9d3e7"/><rect x="209.78" y="172.78" width="6.99" height="7.47" fill="#e3acaa"/><rect x="216.77" y="172.78" width="6.99" height="7.47" fill="#e3acaa"/><rect x="223.76" y="172.78" width="6.99" height="7.47" fill="#e3acaa"/><rect x="230.75" y="172.78" width="6.99" height="7.47" fill="#eac5c4"/><rect x="237.74" y="172.78" width="6.99" height="7.47" fill="#e3acaa"/><rect x="244.73" y="172.78" width="6.99" height="7.47" fill="#dc9390"/><rect x="251.72" y="172.78" width="6.99" height="7.47" fill="#eac5c4"/><rect x="258.71" y="172.78" width="6.99" height="7.47" fill="#e3acaa"/><rect x="265.70" y="172.78" width="6.99" height="7.47" fill="#e3acaa"/><rect x="272.69" y="172.78" width="6.99" height="7.47" fill="#e3acaa"/><rect x="279.68" y="172.78" width="6.99" height="7.47" fill="#e3acaa"/><rect x="286.67" y="172.78" width="6.99" height="7.47" fill="#eac5c4"/><rect x="293.66" y="172.78" width="6.99" height="7.47" fill="#ffffff"/><rect x="300.65" y="172.78" width="6.99" height="7.47" fill="#b1c0df"/><rect x="195.80" y="180.25" width="6.99" height="7.47" fill="#eac5c4"/><rect x="202.79" y="180.25" width="6.99" height="7.47" fill="#b1c0df"/><rect x="209.78" y="180.25" width="6.99" height="7.47" fill="#e3acaa"/><rect x="216.77" y="180.25" width="6.99" height="7.47" fill="#e3acaa"/><rect x="223.76" y="180.25" width="6.99" height="7.47" fill="#e3acaa"/><rect x="230.75" y="180.25" width="6.99" height="7.47" fill="#eac5c4"/><rect x="237.74" y="180.25" width="6.99" height="7.47" fill="#e3acaa"/><rect x="244.73" y="180.25" width="6.99" height="7.47" fill="#dc9390"/><rect x="251.72" y="180.25" width="6.99" height="7.47" fill="#eac5c4"/><rect x="258.71" y="180.25" width="6.99" height="7.47" fill="#e3acaa"/><rect x="265.70" y="180.25" width="6.99" height="7.47" fill="#e3acaa"/><rect x="272.69" y="180.25" width="6.99" height="7.47" fill="#e3acaa"/><rect x="279.68" y="180.25" width="6.99" height="7.47" fill="#e3acaa"/><rect x="286.67" y="180.25" width="6.99" height="7.47" fill="#eac5c4"/><rect x="293.66" y="180.25" width="6.99" height="7.47" fill="#eac5c4"/><rect x="300.65" y="180.25" width="6.99" height="7.47" fill="#ffffff"/><path d="M195.80 68.2V187.72M195.8 68.20H307.64M202.79 68.2V187.72M195.8 75.67H307.64M209.78 68.2V187.72M195.8 83.14H307.64M216.77 68.2V187.72M195.8 90.61H307.64M223.76 68.2V187.72M195.8 98.08H307.64M230.75 68.2V187.72M195.8 105.55H307.64M237.74 68.2V187.72M195.8 113.02H307.64M244.73 68.2V187.72M195.8 120.49H307.64M251.72 68.2V187.72M195.8 127.96H307.64M258.71 68.2V187.72M195.8 135.43H307.64M265.70 68.2V187.72M195.8 142.90H307.64M272.69 68.2V187.72M195.8 150.37H307.64M279.68 68.2V187.72M195.8 157.84H307.64M286.67 68.2V187.72M195.8 165.31H307.64M293.66 68.2V187.72M195.8 172.78H307.64M300.65 68.2V187.72M195.8 180.25H307.64M307.64 68.2V187.72M195.8 187.72H307.64" stroke="#4a505c" stroke-opacity="0.7" stroke-width="0.9" fill="none"/><text x="167.85" y="74.80" font-size="7.1" fill="#231f20" stroke="#231f20" textLength="24.30" lengthAdjust="spacingAndGlyphs" >LT-HSC</text><text x="166.75" y="82.27" font-size="7.1" fill="#231f20" stroke="#231f20" textLength="25.40" lengthAdjust="spacingAndGlyphs" >ST-HSC</text><text x="176.35" y="89.74" font-size="7.1" fill="#231f20" stroke="#231f20" textLength="15.80" lengthAdjust="spacingAndGlyphs" >MPP</text><text x="175.65" y="97.21" font-size="7.1" fill="#231f20" stroke="#231f20" textLength="16.50" lengthAdjust="spacingAndGlyphs" >CMP</text><text x="174.95" y="104.68" font-size="7.1" fill="#231f20" stroke="#231f20" textLength="17.20" lengthAdjust="spacingAndGlyphs" >GMP</text><text x="182.95" y="112.15" font-size="7.1" fill="#231f20" stroke="#231f20" textLength="9.20" lengthAdjust="spacingAndGlyphs" >Mf</text><text x="174.95" y="119.62" font-size="7.1" fill="#231f20" stroke="#231f20" textLength="17.20" lengthAdjust="spacingAndGlyphs" >Gran</text><text x="171.25" y="127.09" font-size="7.1" fill="#231f20" stroke="#231f20" textLength="20.90" lengthAdjust="spacingAndGlyphs" >Mono</text><text x="178.45" y="134.56" font-size="7.1" fill="#231f20" stroke="#231f20" textLength="13.70" lengthAdjust="spacingAndGlyphs" >CLP</text><text x="187.25" y="142.03" font-size="7.1" fill="#231f20" stroke="#231f20" textLength="4.90" lengthAdjust="spacingAndGlyphs" >B</text><text x="176.65" y="149.50" font-size="7.1" fill="#231f20" stroke="#231f20" textLength="15.50" lengthAdjust="spacingAndGlyphs" >CD4</text><text x="176.65" y="156.97" font-size="7.1" fill="#231f20" stroke="#231f20" textLength="15.50" lengthAdjust="spacingAndGlyphs" >CD8</text><text x="181.85" y="164.44" font-size="7.1" fill="#231f20" stroke="#231f20" textLength="10.30" lengthAdjust="spacingAndGlyphs" >NK</text><text x="176.35" y="171.91" font-size="7.1" fill="#231f20" stroke="#231f20" textLength="15.80" lengthAdjust="spacingAndGlyphs" >MEP</text><text x="175.65" y="179.38" font-size="7.1" fill="#231f20" stroke="#231f20" textLength="16.50" lengthAdjust="spacingAndGlyphs" >EryA</text><text x="176.05" y="186.85" font-size="7.1" fill="#231f20" stroke="#231f20" textLength="16.10" lengthAdjust="spacingAndGlyphs" >EryB</text><text transform="translate(201.90 65.25) rotate(-90)" font-size="7.1" fill="#231f20" stroke="#231f20" textLength="24.30" lengthAdjust="spacingAndGlyphs">LT-HSC</text><text transform="translate(208.89 65.25) rotate(-90)" font-size="7.1" fill="#231f20" stroke="#231f20" textLength="25.40" lengthAdjust="spacingAndGlyphs">ST-HSC</text><text transform="translate(215.88 65.25) rotate(-90)" font-size="7.1" fill="#231f20" stroke="#231f20" textLength="15.80" lengthAdjust="spacingAndGlyphs">MPP</text><text transform="translate(222.87 65.25) rotate(-90)" font-size="7.1" fill="#231f20" stroke="#231f20" textLength="16.50" lengthAdjust="spacingAndGlyphs">CMP</text><text transform="translate(229.86 65.25) rotate(-90)" font-size="7.1" fill="#231f20" stroke="#231f20" textLength="17.20" lengthAdjust="spacingAndGlyphs">GMP</text><text transform="translate(236.84 65.25) rotate(-90)" font-size="7.1" fill="#231f20" stroke="#231f20" textLength="9.20" lengthAdjust="spacingAndGlyphs">Mf</text><text transform="translate(243.84 65.25) rotate(-90)" font-size="7.1" fill="#231f20" stroke="#231f20" textLength="17.20" lengthAdjust="spacingAndGlyphs">Gran</text><text transform="translate(250.83 65.25) rotate(-90)" font-size="7.1" fill="#231f20" stroke="#231f20" textLength="20.90" lengthAdjust="spacingAndGlyphs">Mono</text><text transform="translate(257.81 65.25) rotate(-90)" font-size="7.1" fill="#231f20" stroke="#231f20" textLength="13.70" lengthAdjust="spacingAndGlyphs">CLP</text><text transform="translate(264.81 65.25) rotate(-90)" font-size="7.1" fill="#231f20" stroke="#231f20" textLength="4.90" lengthAdjust="spacingAndGlyphs">B</text><text transform="translate(271.80 65.25) rotate(-90)" font-size="7.1" fill="#231f20" stroke="#231f20" textLength="15.50" lengthAdjust="spacingAndGlyphs">CD4</text><text transform="translate(278.79 65.25) rotate(-90)" font-size="7.1" fill="#231f20" stroke="#231f20" textLength="15.50" lengthAdjust="spacingAndGlyphs">CD8</text><text transform="translate(285.78 65.25) rotate(-90)" font-size="7.1" fill="#231f20" stroke="#231f20" textLength="10.30" lengthAdjust="spacingAndGlyphs">NK</text><text transform="translate(292.77 65.25) rotate(-90)" font-size="7.1" fill="#231f20" stroke="#231f20" textLength="15.80" lengthAdjust="spacingAndGlyphs">MEP</text><text transform="translate(299.76 65.25) rotate(-90)" font-size="7.1" fill="#231f20" stroke="#231f20" textLength="16.50" lengthAdjust="spacingAndGlyphs">EryA</text><text transform="translate(306.75 65.25) rotate(-90)" font-size="7.1" fill="#231f20" stroke="#231f20" textLength="16.10" lengthAdjust="spacingAndGlyphs">EryB</text><defs><linearGradient id="gb" x1="0" x2="1" y1="0" y2="0"><stop offset="0" stop-color="#5573b8"/><stop offset="0.5" stop-color="#f4f4f4"/><stop offset="1" stop-color="#c9474a"/></linearGradient><linearGradient id="ge" x1="0" x2="0" y1="0" y2="1"><stop offset="0" stop-color="#c0454f"/><stop offset="0.5" stop-color="#f6f6f6"/><stop offset="1" stop-color="#5a7dc0"/></linearGradient></defs><rect x="224.1" y="28.7" width="60.9" height="3.5" fill="url(#gb)"/><text x="222.45" y="25.60" font-size="7.6" fill="#231f20" stroke="#231f20" textLength="6.40" lengthAdjust="spacingAndGlyphs" >-1</text><text x="252.85" y="25.60" font-size="7.6" fill="#231f20" stroke="#231f20" textLength="4.30" lengthAdjust="spacingAndGlyphs" >0</text><text x="281.85" y="25.60" font-size="7.6" fill="#231f20" stroke="#231f20" textLength="3.70" lengthAdjust="spacingAndGlyphs" >1</text><text x="288.25" y="32.10" font-size="7.6" fill="#231f20" stroke="#231f20" textLength="8.50" lengthAdjust="spacingAndGlyphs" >ES</text><line x1="314" y1="67.9" x2="390.3" y2="67.9" stroke="#231f20" stroke-width="1.1"/><line x1="317.1" y1="65.2" x2="317.1" y2="67.9" stroke="#231f20" stroke-width="0.9"/><line x1="334.9" y1="65.2" x2="334.9" y2="67.9" stroke="#231f20" stroke-width="0.9"/><line x1="352.1" y1="65.2" x2="352.1" y2="67.9" stroke="#231f20" stroke-width="0.9"/><line x1="369.9" y1="65.2" x2="369.9" y2="67.9" stroke="#231f20" stroke-width="0.9"/><line x1="388.0" y1="65.2" x2="388.0" y2="67.9" stroke="#231f20" stroke-width="0.9"/><text x="311.55" y="59.90" font-size="7.6" fill="#231f20" stroke="#231f20" textLength="11.10" lengthAdjust="spacingAndGlyphs" >-10</text><text x="331.95" y="59.90" font-size="7.6" fill="#231f20" stroke="#231f20" textLength="6.30" lengthAdjust="spacingAndGlyphs" >-5</text><text x="349.95" y="59.90" font-size="7.6" fill="#231f20" stroke="#231f20" textLength="4.70" lengthAdjust="spacingAndGlyphs" >0</text><text x="367.65" y="59.90" font-size="7.6" fill="#231f20" stroke="#231f20" textLength="4.30" lengthAdjust="spacingAndGlyphs" >5</text><text x="383.35" y="59.90" font-size="7.6" fill="#231f20" stroke="#231f20" textLength="8.50" lengthAdjust="spacingAndGlyphs" >10</text><text x="322.25" y="47.30" font-size="9.0" fill="#231f20" stroke="#231f20" textLength="60.50" lengthAdjust="spacingAndGlyphs" >Cumulative ES</text><rect x="349.30" y="69.73" width="17.30" height="4.4" fill="#c9403f"/><rect x="349.30" y="77.20" width="35.30" height="4.4" fill="#c9403f"/><rect x="339.77" y="84.67" width="9.53" height="4.4" fill="#c9403f"/><rect x="349.30" y="92.14" width="3.88" height="4.4" fill="#c9403f"/><rect x="329.88" y="99.61" width="19.41" height="4.4" fill="#c9403f"/><rect x="349.30" y="107.08" width="14.47" height="4.4" fill="#c9403f"/><rect x="348.42" y="114.55" width="0.88" height="4.4" fill="#c9403f"/><rect x="318.24" y="122.02" width="31.06" height="4.4" fill="#c9403f"/><rect x="349.30" y="129.50" width="2.12" height="4.4" fill="#c9403f"/><rect x="316.82" y="136.97" width="32.48" height="4.4" fill="#c9403f"/><rect x="327.06" y="144.44" width="22.24" height="4.4" fill="#c9403f"/><rect x="328.83" y="151.91" width="20.47" height="4.4" fill="#c9403f"/><rect x="344.36" y="159.38" width="4.94" height="4.4" fill="#c9403f"/><rect x="349.30" y="166.85" width="19.77" height="4.4" fill="#c9403f"/><rect x="349.30" y="174.31" width="19.77" height="4.4" fill="#c9403f"/><rect x="349.30" y="181.79" width="22.95" height="4.4" fill="#c9403f"/><path d="M308.2 75.67H349.3M308.2 83.14H349.3M308.2 90.61H349.3M308.2 98.08H349.3M308.2 105.55H349.3M308.2 113.02H349.3M308.2 120.49H349.3M308.2 127.96H349.3M308.2 135.43H349.3M308.2 142.90H349.3M308.2 150.37H349.3M308.2 157.84H349.3M308.2 165.31H349.3M308.2 172.78H349.3M308.2 180.25H349.3M308.2 187.72H349.3" stroke="#333" stroke-width="0.9" stroke-dasharray="2.4 1.6" fill="none"/><line x1="349.3" y1="67.9" x2="349.3" y2="188.6" stroke="#231f20" stroke-width="1"/><path d="M435.5 37.4V74.6M444.8 37.4V74.6M454.0 37.4V74.6M463.2 37.4V74.6M472.5 37.4V74.6M481.7 37.4V74.6M491.0 37.4V74.6M426.3 74.3H500.2M426.3 66.6H500.2M426.3 58.9H500.2M426.3 51.2H500.2M426.3 43.5H500.2" stroke="#f1f1f1" stroke-width="0.6" fill="none"/><line x1="426.3" y1="73.0" x2="500.2" y2="73.0" stroke="#dcdcdc" stroke-width="0.8"/><rect x="426.3" y="74.6" width="1.9" height="11.7" fill="#000"/><rect x="428.20" y="74.6" width="1.82" height="11.7" fill="rgb(52,52,52)"/><rect x="430.11" y="74.6" width="1.36" height="11.7" fill="rgb(108,108,108)"/><rect x="431.59" y="74.6" width="1.49" height="11.7" fill="rgb(111,111,111)"/><rect x="433.24" y="74.6" width="0.90" height="11.7" fill="rgb(133,133,133)"/><rect x="434.20" y="74.6" width="1.56" height="11.7" fill="rgb(148,148,148)"/><rect x="435.77" y="74.6" width="1.88" height="11.7" fill="rgb(129,129,129)"/><rect x="437.85" y="74.6" width="0.97" height="11.7" fill="rgb(67,67,67)"/><rect x="438.82" y="74.6" width="1.38" height="11.7" fill="rgb(55,55,55)"/><rect x="440.22" y="74.6" width="0.83" height="11.7" fill="rgb(104,104,104)"/><rect x="441.14" y="74.6" width="1.28" height="11.7" fill="rgb(119,119,119)"/><rect x="442.59" y="74.6" width="1.35" height="11.7" fill="rgb(90,90,90)"/><rect x="444.61" y="74.6" width="1.30" height="11.7" fill="rgb(134,134,134)"/><rect x="446.19" y="74.6" width="1.72" height="11.7" fill="rgb(225,225,225)"/><rect x="448.62" y="74.6" width="1.15" height="11.7" fill="rgb(138,138,138)"/><rect x="450.00" y="74.6" width="1.64" height="11.7" fill="rgb(136,136,136)"/><rect x="452.04" y="74.6" width="1.73" height="11.7" fill="rgb(152,152,152)"/><rect x="454.16" y="74.6" width="0.80" height="11.7" fill="rgb(205,205,205)"/><rect x="455.17" y="74.6" width="1.80" height="11.7" fill="rgb(122,122,122)"/><rect x="457.44" y="74.6" width="0.88" height="11.7" fill="rgb(174,174,174)"/><rect x="458.95" y="74.6" width="1.66" height="11.7" fill="rgb(135,135,135)"/><rect x="460.87" y="74.6" width="1.86" height="11.7" fill="rgb(166,166,166)"/><rect x="463.49" y="74.6" width="0.93" height="11.7" fill="rgb(166,166,166)"/><rect x="465.16" y="74.6" width="1.68" height="11.7" fill="rgb(159,159,159)"/><rect x="467.37" y="74.6" width="1.42" height="11.7" fill="rgb(157,157,157)"/><rect x="470.13" y="74.6" width="0.94" height="11.7" fill="rgb(170,170,170)"/><rect x="473.00" y="74.6" width="0.93" height="11.7" fill="rgb(202,202,202)"/><rect x="475.20" y="74.6" width="1.87" height="11.7" fill="rgb(156,156,156)"/><rect x="479.47" y="74.6" width="1.13" height="11.7" fill="rgb(177,177,177)"/><rect x="483.26" y="74.6" width="1.74" height="11.7" fill="rgb(158,158,158)"/><rect x="486.93" y="74.6" width="0.91" height="11.7" fill="rgb(183,183,183)"/><rect x="490.81" y="74.6" width="1.65" height="11.7" fill="rgb(156,156,156)"/><rect x="493.44" y="74.6" width="1.13" height="11.7" fill="rgb(176,176,176)"/><rect x="494.79" y="74.6" width="1.07" height="11.7" fill="rgb(189,189,189)"/><rect x="497.66" y="74.6" width="1.21" height="11.7" fill="rgb(174,174,174)"/><rect x="426.3" y="86.3" width="37.90" height="2.50" fill="#efb4cc"/><rect x="464.2" y="86.3" width="36.00" height="2.50" fill="#4b2480"/><path d="M426.5 70.2 L429.4 62.7 L432.0 57.5 L435.3 50.9 L438.5 45.7 L441.1 42.4 L443.1 42.0 L444.4 39.8 L445.7 38.6 L449.0 39.8 L454.2 41.8 L459.4 44.1 L463.4 47.6 L468.0 50.3 L469.2 49.9 L472.5 52.2 L474.9 54.2 L479.0 57.7 L485.8 63.5 L490.6 65.8 L495.4 68.3 L500.0 72.1" stroke="#7cc242" stroke-width="1.1" fill="none" stroke-linejoin="round"/><rect x="426.3" y="37.4" width="73.9" height="51.8" fill="none" stroke="#231f20" stroke-width="1.1"/><line x1="423.3" y1="74.3" x2="426.3" y2="74.3" stroke="#231f20" stroke-width="0.9"/><text x="415.45" y="77.20" font-size="8.0" fill="#231f20" stroke="#231f20" textLength="4.50" lengthAdjust="spacingAndGlyphs" >0</text><line x1="423.3" y1="66.6" x2="426.3" y2="66.6" stroke="#231f20" stroke-width="0.9"/><text x="409.05" y="69.50" font-size="8.0" fill="#231f20" stroke="#231f20" textLength="10.90" lengthAdjust="spacingAndGlyphs" >0.1</text><line x1="423.3" y1="58.9" x2="426.3" y2="58.9" stroke="#231f20" stroke-width="0.9"/><text x="409.05" y="61.80" font-size="8.0" fill="#231f20" stroke="#231f20" textLength="10.90" lengthAdjust="spacingAndGlyphs" >0.2</text><line x1="423.3" y1="51.2" x2="426.3" y2="51.2" stroke="#231f20" stroke-width="0.9"/><text x="409.05" y="54.10" font-size="8.0" fill="#231f20" stroke="#231f20" textLength="10.90" lengthAdjust="spacingAndGlyphs" >0.3</text><line x1="423.3" y1="43.5" x2="426.3" y2="43.5" stroke="#231f20" stroke-width="0.9"/><text x="409.05" y="46.40" font-size="8.0" fill="#231f20" stroke="#231f20" textLength="10.90" lengthAdjust="spacingAndGlyphs" >0.4</text><text x="432.65" y="25.00" font-size="8.0" fill="#231f20" stroke="#231f20" textLength="58.50" lengthAdjust="spacingAndGlyphs" >Enrichment plot:</text><text x="435.65" y="35.10" font-size="8.0" fill="#231f20" stroke="#231f20" textLength="53.20" lengthAdjust="spacingAndGlyphs" >GOODELL_HSC</text><text x="426.55" y="99.80" font-size="8.0" fill="#c9403f" stroke="#c9403f" textLength="21.30" lengthAdjust="spacingAndGlyphs" >L-MEP</text><text x="461.35" y="99.80" font-size="8.0" fill="#231f20" stroke="#231f20" textLength="34.20" lengthAdjust="spacingAndGlyphs" >NES=5.62</text><text x="450.35" y="109.20" font-size="8.0" fill="#231f20" stroke="#231f20" textLength="44.30" lengthAdjust="spacingAndGlyphs" >FDR q&lt;0.001</text><path d="M435.5 137.1V171.4M444.8 137.1V171.4M454.0 137.1V171.4M463.2 137.1V171.4M472.5 137.1V171.4M481.7 137.1V171.4M491.0 137.1V171.4M426.3 170.6H500.2M426.3 163.4H500.2M426.3 156.2H500.2M426.3 149.0H500.2M426.3 141.8H500.2" stroke="#f1f1f1" stroke-width="0.6" fill="none"/><line x1="426.3" y1="169.8" x2="500.2" y2="169.8" stroke="#dcdcdc" stroke-width="0.8"/><rect x="426.3" y="171.4" width="1.9" height="12.0" fill="#000"/><rect x="428.20" y="171.4" width="1.78" height="12.0" fill="rgb(175,175,175)"/><rect x="430.00" y="171.4" width="1.45" height="12.0" fill="rgb(61,61,61)"/><rect x="431.53" y="171.4" width="1.01" height="12.0" fill="rgb(81,81,81)"/><rect x="432.63" y="171.4" width="1.04" height="12.0" fill="rgb(96,96,96)"/><rect x="433.77" y="171.4" width="1.58" height="12.0" fill="rgb(114,114,114)"/><rect x="435.43" y="171.4" width="1.36" height="12.0" fill="rgb(102,102,102)"/><rect x="436.94" y="171.4" width="1.66" height="12.0" fill="rgb(92,92,92)"/><rect x="438.72" y="171.4" width="1.52" height="12.0" fill="rgb(109,109,109)"/><rect x="440.37" y="171.4" width="1.64" height="12.0" fill="rgb(132,132,132)"/><rect x="442.08" y="171.4" width="1.43" height="12.0" fill="rgb(93,93,93)"/><rect x="443.64" y="171.4" width="1.32" height="12.0" fill="rgb(94,94,94)"/><rect x="445.11" y="171.4" width="1.45" height="12.0" fill="rgb(113,113,113)"/><rect x="446.65" y="171.4" width="1.00" height="12.0" fill="rgb(126,126,126)"/><rect x="448.16" y="171.4" width="1.70" height="12.0" fill="rgb(122,122,122)"/><rect x="450.17" y="171.4" width="0.84" height="12.0" fill="rgb(152,152,152)"/><rect x="451.45" y="171.4" width="1.43" height="12.0" fill="rgb(150,150,150)"/><rect x="454.20" y="171.4" width="1.12" height="12.0" fill="rgb(123,123,123)"/><rect x="455.80" y="171.4" width="1.66" height="12.0" fill="rgb(169,169,169)"/><rect x="458.34" y="171.4" width="1.66" height="12.0" fill="rgb(139,139,139)"/><rect x="461.13" y="171.4" width="1.71" height="12.0" fill="rgb(156,156,156)"/><rect x="463.22" y="171.4" width="1.45" height="12.0" fill="rgb(64,64,64)"/><rect x="466.19" y="171.4" width="0.98" height="12.0" fill="rgb(142,142,142)"/><rect x="471.85" y="171.4" width="0.83" height="12.0" fill="rgb(199,199,199)"/><rect x="476.56" y="171.4" width="1.56" height="12.0" fill="rgb(177,177,177)"/><rect x="482.79" y="171.4" width="1.39" height="12.0" fill="rgb(193,193,193)"/><rect x="488.93" y="171.4" width="1.62" height="12.0" fill="rgb(84,84,84)"/><rect x="492.21" y="171.4" width="1.01" height="12.0" fill="rgb(198,198,198)"/><rect x="493.59" y="171.4" width="1.31" height="12.0" fill="rgb(159,159,159)"/><rect x="495.85" y="171.4" width="1.04" height="12.0" fill="rgb(225,225,225)"/><rect x="497.38" y="171.4" width="1.38" height="12.0" fill="rgb(130,130,130)"/><rect x="499.58" y="171.4" width="0.32" height="12.0" fill="rgb(103,103,103)"/><rect x="426.3" y="183.4" width="38.50" height="2.90" fill="#efb4cc"/><rect x="464.8" y="183.4" width="35.40" height="2.90" fill="#4b2480"/><path d="M426.6 169.8 L427.5 159.4 L429.7 152.5 L432.3 148.2 L434.9 147.3 L437.5 144.7 L440.1 141.2 L443.5 138.7 L447.0 140.0 L449.6 142.5 L451.3 141.8 L454.8 142.1 L457.4 143.5 L459.1 143.0 L461.7 144.7 L465.2 147.3 L470.4 151.6 L475.6 156.0 L480.7 160.3 L484.2 161.1 L489.4 163.7 L494.6 166.3 L499.8 169.4" stroke="#7cc242" stroke-width="1.1" fill="none" stroke-linejoin="round"/><rect x="426.3" y="137.1" width="73.9" height="49.6" fill="none" stroke="#231f20" stroke-width="1.1"/><line x1="423.3" y1="170.6" x2="426.3" y2="170.6" stroke="#231f20" stroke-width="0.9"/><text x="415.45" y="173.50" font-size="8.0" fill="#231f20" stroke="#231f20" textLength="4.50" lengthAdjust="spacingAndGlyphs" >0</text><line x1="423.3" y1="163.4" x2="426.3" y2="163.4" stroke="#231f20" stroke-width="0.9"/><text x="409.05" y="166.30" font-size="8.0" fill="#231f20" stroke="#231f20" textLength="10.90" lengthAdjust="spacingAndGlyphs" >0.1</text><line x1="423.3" y1="156.2" x2="426.3" y2="156.2" stroke="#231f20" stroke-width="0.9"/><text x="409.05" y="159.10" font-size="8.0" fill="#231f20" stroke="#231f20" textLength="10.90" lengthAdjust="spacingAndGlyphs" >0.2</text><line x1="423.3" y1="149.0" x2="426.3" y2="149.0" stroke="#231f20" stroke-width="0.9"/><text x="409.05" y="151.90" font-size="8.0" fill="#231f20" stroke="#231f20" textLength="10.90" lengthAdjust="spacingAndGlyphs" >0.3</text><line x1="423.3" y1="141.8" x2="426.3" y2="141.8" stroke="#231f20" stroke-width="0.9"/><text x="409.05" y="144.70" font-size="8.0" fill="#231f20" stroke="#231f20" textLength="10.90" lengthAdjust="spacingAndGlyphs" >0.4</text><text x="416.95" y="125.40" font-size="8.0" fill="#231f20" stroke="#231f20" textLength="89.40" lengthAdjust="spacingAndGlyphs" >BROWN_MYELOID_CELL_</text><text x="428.35" y="134.90" font-size="8.0" fill="#231f20" stroke="#231f20" textLength="67.00" lengthAdjust="spacingAndGlyphs" >DEVELOPMENT_UP</text><text x="427.45" y="196.80" font-size="8.0" fill="#c9403f" stroke="#c9403f" textLength="22.30" lengthAdjust="spacingAndGlyphs" >L-MEP</text><text x="462.15" y="196.80" font-size="8.0" fill="#231f20" stroke="#231f20" textLength="34.20" lengthAdjust="spacingAndGlyphs" >NES=4.96</text><text x="451.65" y="206.50" font-size="8.0" fill="#231f20" stroke="#231f20" textLength="44.20" lengthAdjust="spacingAndGlyphs" >FDR q&lt;0.001</text><path d="M436.5 224.6V261.3M445.7 224.6V261.3M454.9 224.6V261.3M464.1 224.6V261.3M473.2 224.6V261.3M482.4 224.6V261.3M491.6 224.6V261.3M427.3 253.8H500.8M427.3 247.2H500.8M427.3 240.6H500.8M427.3 234.0H500.8M427.3 227.4H500.8" stroke="#f1f1f1" stroke-width="0.6" fill="none"/><line x1="427.3" y1="259.7" x2="500.8" y2="259.7" stroke="#dcdcdc" stroke-width="0.8"/><rect x="427.3" y="261.3" width="1.9" height="12.0" fill="#000"/><rect x="429.20" y="261.3" width="1.48" height="12.0" fill="rgb(113,113,113)"/><rect x="431.27" y="261.3" width="1.72" height="12.0" fill="rgb(106,106,106)"/><rect x="433.35" y="261.3" width="1.38" height="12.0" fill="rgb(97,97,97)"/><rect x="434.80" y="261.3" width="1.55" height="12.0" fill="rgb(95,95,95)"/><rect x="436.78" y="261.3" width="1.61" height="12.0" fill="rgb(113,113,113)"/><rect x="438.70" y="261.3" width="1.86" height="12.0" fill="rgb(153,153,153)"/><rect x="441.23" y="261.3" width="0.88" height="12.0" fill="rgb(128,128,128)"/><rect x="442.32" y="261.3" width="1.20" height="12.0" fill="rgb(107,107,107)"/><rect x="444.01" y="261.3" width="1.50" height="12.0" fill="rgb(140,140,140)"/><rect x="445.91" y="261.3" width="0.84" height="12.0" fill="rgb(140,140,140)"/><rect x="450.54" y="261.3" width="0.81" height="12.0" fill="rgb(188,188,188)"/><rect x="456.07" y="261.3" width="1.80" height="12.0" fill="rgb(215,215,215)"/><rect x="458.37" y="261.3" width="1.19" height="12.0" fill="rgb(173,173,173)"/><rect x="460.70" y="261.3" width="1.75" height="12.0" fill="rgb(176,176,176)"/><rect x="467.69" y="261.3" width="1.59" height="12.0" fill="rgb(199,199,199)"/><rect x="474.32" y="261.3" width="1.36" height="12.0" fill="rgb(165,165,165)"/><rect x="482.27" y="261.3" width="1.59" height="12.0" fill="rgb(159,159,159)"/><rect x="487.33" y="261.3" width="1.03" height="12.0" fill="rgb(159,159,159)"/><rect x="492.81" y="261.3" width="1.41" height="12.0" fill="rgb(216,216,216)"/><rect x="494.24" y="261.3" width="1.51" height="12.0" fill="rgb(191,191,191)"/><rect x="496.39" y="261.3" width="0.83" height="12.0" fill="rgb(161,161,161)"/><rect x="427.3" y="273.3" width="37.00" height="1.90" fill="#f0b4c4"/><rect x="464.3" y="273.3" width="36.50" height="1.90" fill="#c9c6ee"/><path d="M428.0 257.8 L428.8 242.2 L430.2 238.4 L431.4 239.6 L433.2 234.4 L434.9 235.3 L436.6 233.9 L439.2 230.5 L441.8 227.0 L445.3 227.5 L447.9 229.2 L451.3 232.7 L455.7 237.0 L458.3 238.8 L460.8 240.5 L463.4 242.2 L466.0 240.8 L468.6 242.2 L472.1 245.7 L475.6 247.1 L479.0 249.1 L482.5 250.5 L485.1 252.6 L487.3 252.6 L489.0 249.1 L491.1 250.9 L494.6 253.5 L497.2 256.1 L500.1 258.7" stroke="#7cc242" stroke-width="1.1" fill="none" stroke-linejoin="round"/><rect x="427.3" y="224.6" width="73.5" height="51.0" fill="none" stroke="#231f20" stroke-width="1.1"/><line x1="424.3" y1="253.8" x2="427.3" y2="253.8" stroke="#231f20" stroke-width="0.9"/><text x="415.45" y="256.70" font-size="8.0" fill="#231f20" stroke="#231f20" textLength="4.50" lengthAdjust="spacingAndGlyphs" >0</text><line x1="424.3" y1="247.2" x2="427.3" y2="247.2" stroke="#231f20" stroke-width="0.9"/><text x="409.05" y="250.10" font-size="8.0" fill="#231f20" stroke="#231f20" textLength="10.90" lengthAdjust="spacingAndGlyphs" >0.1</text><line x1="424.3" y1="240.6" x2="427.3" y2="240.6" stroke="#231f20" stroke-width="0.9"/><text x="409.05" y="243.50" font-size="8.0" fill="#231f20" stroke="#231f20" textLength="10.90" lengthAdjust="spacingAndGlyphs" >0.2</text><line x1="424.3" y1="234.0" x2="427.3" y2="234.0" stroke="#231f20" stroke-width="0.9"/><text x="409.05" y="236.90" font-size="8.0" fill="#231f20" stroke="#231f20" textLength="10.90" lengthAdjust="spacingAndGlyphs" >0.3</text><line x1="424.3" y1="227.4" x2="427.3" y2="227.4" stroke="#231f20" stroke-width="0.9"/><text x="409.05" y="230.30" font-size="8.0" fill="#231f20" stroke="#231f20" textLength="10.90" lengthAdjust="spacingAndGlyphs" >0.4</text><text x="433.85" y="222.20" font-size="8.0" fill="#231f20" stroke="#231f20" textLength="62.50" lengthAdjust="spacingAndGlyphs" >TFACTS_MM_SPI1</text><text x="428.35" y="286.10" font-size="8.0" fill="#c9403f" stroke="#c9403f" textLength="22.50" lengthAdjust="spacingAndGlyphs" >L-MEP</text><text x="471.65" y="286.10" font-size="8.0" fill="#231f20" stroke="#231f20" textLength="30.00" lengthAdjust="spacingAndGlyphs" >NES=3.6</text><text x="456.45" y="296.30" font-size="8.0" fill="#231f20" stroke="#231f20" textLength="44.10" lengthAdjust="spacingAndGlyphs" >FDR q&lt;0.001</text><line x1="165" y1="248.7" x2="372" y2="248.7" stroke="#4d4d4f" stroke-width="1.5"/><line x1="165" y1="258.1" x2="372" y2="258.1" stroke="#4d4d4f" stroke-width="1.1"/><line x1="165" y1="327.7" x2="372" y2="327.7" stroke="#4d4d4f" stroke-width="1.6"/><text x="170.65" y="256.10" font-size="7.6" fill="#231f20" stroke="#231f20" textLength="58.30" lengthAdjust="spacingAndGlyphs" >GREAT GO Terms</text><text x="289.85" y="256.10" font-size="7.6" fill="#231f20" stroke="#231f20" textLength="11.80" lengthAdjust="spacingAndGlyphs" >OR</text><text x="337.35" y="256.10" font-size="7.6" fill="#231f20" stroke="#231f20" textLength="27.00" lengthAdjust="spacingAndGlyphs" >P-value</text><text x="168.45" y="266.10" font-size="7.5" fill="#231f20" stroke="#231f20" textLength="63.90" lengthAdjust="spacingAndGlyphs" >Biological Process:</text><text x="168.35" y="275.60" font-size="7.5" fill="#231f20" stroke="#231f20" textLength="81.70" lengthAdjust="spacingAndGlyphs" >Macrophage activation</text><text x="286.15" y="275.60" font-size="7.6" fill="#231f20" stroke="#231f20" textLength="19.60" lengthAdjust="spacingAndGlyphs" >32.30</text><text x="335.25" y="275.60" font-size="7.6" fill="#231f20" stroke="#231f20" textLength="30.50" lengthAdjust="spacingAndGlyphs" >4.81e-06</text><text x="168.35" y="285.22" font-size="7.5" fill="#231f20" stroke="#231f20" textLength="77.50" lengthAdjust="spacingAndGlyphs" >Interleukin-6 pathway</text><text x="288.15" y="285.22" font-size="7.6" fill="#231f20" stroke="#231f20" textLength="15.70" lengthAdjust="spacingAndGlyphs" >8.60</text><text x="335.25" y="285.22" font-size="7.6" fill="#231f20" stroke="#231f20" textLength="30.50" lengthAdjust="spacingAndGlyphs" >8.10e-04</text><text x="168.35" y="294.84" font-size="7.5" fill="#231f20" stroke="#231f20" textLength="81.70" lengthAdjust="spacingAndGlyphs" >Inflammatory response</text><text x="289.05" y="294.84" font-size="7.6" fill="#231f20" stroke="#231f20" textLength="14.20" lengthAdjust="spacingAndGlyphs" >1.77</text><text x="335.25" y="294.84" font-size="7.6" fill="#231f20" stroke="#231f20" textLength="30.50" lengthAdjust="spacingAndGlyphs" >2.78e-07</text><text x="168.35" y="304.46" font-size="7.5" fill="#231f20" stroke="#231f20" textLength="64.20" lengthAdjust="spacingAndGlyphs" >Immune response</text><text x="288.45" y="304.46" font-size="7.6" fill="#231f20" stroke="#231f20" textLength="15.40" lengthAdjust="spacingAndGlyphs" >2.45</text><text x="335.25" y="304.46" font-size="7.6" fill="#231f20" stroke="#231f20" textLength="30.50" lengthAdjust="spacingAndGlyphs" >5.70e-10</text><text x="168.35" y="314.08" font-size="7.5" fill="#231f20" stroke="#231f20" textLength="73.30" lengthAdjust="spacingAndGlyphs" >Leukocyte activation</text><text x="288.45" y="314.08" font-size="7.6" fill="#231f20" stroke="#231f20" textLength="15.40" lengthAdjust="spacingAndGlyphs" >2.30</text><text x="335.25" y="314.08" font-size="7.6" fill="#231f20" stroke="#231f20" textLength="30.50" lengthAdjust="spacingAndGlyphs" >2.73e-07</text><text x="168.35" y="323.70" font-size="7.5" fill="#231f20" stroke="#231f20" textLength="94.40" lengthAdjust="spacingAndGlyphs" >Myeloid cell differentiation</text><text x="289.05" y="323.70" font-size="7.6" fill="#231f20" stroke="#231f20" textLength="14.80" lengthAdjust="spacingAndGlyphs" >1.79</text><text x="335.25" y="323.70" font-size="7.6" fill="#231f20" stroke="#231f20" textLength="30.50" lengthAdjust="spacingAndGlyphs" >7.16e-04</text><rect x="43.90" y="226.30" width="12.93" height="7.87" fill="#b7c3e0"/><rect x="56.83" y="226.30" width="12.93" height="7.87" fill="#b7c3e0"/><rect x="69.76" y="226.30" width="12.93" height="7.87" fill="#b7c3e0"/><rect x="82.69" y="226.30" width="12.93" height="7.87" fill="#f2e8e9"/><rect x="95.62" y="226.30" width="12.93" height="7.87" fill="#e5c2c4"/><rect x="108.55" y="226.30" width="12.93" height="7.87" fill="#c46168"/><text x="17.65" y="232.90" font-size="7.3" fill="#231f20" stroke="#231f20" textLength="23.30" lengthAdjust="spacingAndGlyphs" >Csf2rb</text><rect x="43.90" y="234.17" width="12.93" height="7.87" fill="#b7c3e0"/><rect x="56.83" y="234.17" width="12.93" height="7.87" fill="#b7c3e0"/><rect x="69.76" y="234.17" width="12.93" height="7.87" fill="#b7c3e0"/><rect x="82.69" y="234.17" width="12.93" height="7.87" fill="#e2b7ba"/><rect x="95.62" y="234.17" width="12.93" height="7.87" fill="#f7f7f7"/><rect x="108.55" y="234.17" width="12.93" height="7.87" fill="#c46168"/><text x="24.15" y="240.77" font-size="7.3" fill="#231f20" stroke="#231f20" textLength="16.40" lengthAdjust="spacingAndGlyphs" >Ly6a</text><rect x="43.90" y="242.03" width="12.93" height="7.87" fill="#c0cae3"/><rect x="56.83" y="242.03" width="12.93" height="7.87" fill="#c4cee5"/><rect x="69.76" y="242.03" width="12.93" height="7.87" fill="#c0cae3"/><rect x="82.69" y="242.03" width="12.93" height="7.87" fill="#efddde"/><rect x="95.62" y="242.03" width="12.93" height="7.87" fill="#f7f7f7"/><rect x="108.55" y="242.03" width="12.93" height="7.87" fill="#bc4b52"/><text x="13.55" y="248.63" font-size="7.3" fill="#231f20" stroke="#231f20" textLength="27.00" lengthAdjust="spacingAndGlyphs" >C/ebp&#945;</text><rect x="43.90" y="249.90" width="12.93" height="7.87" fill="#b7c3e0"/><rect x="56.83" y="249.90" width="12.93" height="7.87" fill="#c0cae3"/><rect x="69.76" y="249.90" width="12.93" height="7.87" fill="#b7c3e0"/><rect x="82.69" y="249.90" width="12.93" height="7.87" fill="#dca7ab"/><rect x="95.62" y="249.90" width="12.93" height="7.87" fill="#f7f7f7"/><rect x="108.55" y="249.90" width="12.93" height="7.87" fill="#d38c91"/><text x="24.95" y="256.50" font-size="7.3" fill="#231f20" stroke="#231f20" textLength="14.80" lengthAdjust="spacingAndGlyphs" >Spi1</text><rect x="43.90" y="257.76" width="12.93" height="7.87" fill="#b7c3e0"/><rect x="56.83" y="257.76" width="12.93" height="7.87" fill="#c0cae3"/><rect x="69.76" y="257.76" width="12.93" height="7.87" fill="#b7c3e0"/><rect x="82.69" y="257.76" width="12.93" height="7.87" fill="#d38c91"/><rect x="95.62" y="257.76" width="12.93" height="7.87" fill="#d38c91"/><rect x="108.55" y="257.76" width="12.93" height="7.87" fill="#f7f7f7"/><text x="19.75" y="264.36" font-size="7.3" fill="#231f20" stroke="#231f20" textLength="20.00" lengthAdjust="spacingAndGlyphs" >Meis1</text><rect x="43.90" y="265.62" width="12.93" height="7.87" fill="#b7c3e0"/><rect x="56.83" y="265.62" width="12.93" height="7.87" fill="#b7c3e0"/><rect x="69.76" y="265.62" width="12.93" height="7.87" fill="#b7c3e0"/><rect x="82.69" y="265.62" width="12.93" height="7.87" fill="#dca7ab"/><rect x="95.62" y="265.62" width="12.93" height="7.87" fill="#d38c91"/><rect x="108.55" y="265.62" width="12.93" height="7.87" fill="#dca7ab"/><text x="18.55" y="272.23" font-size="7.3" fill="#231f20" stroke="#231f20" textLength="21.20" lengthAdjust="spacingAndGlyphs" >Runx1</text><rect x="43.90" y="273.49" width="12.93" height="7.87" fill="#cdd5e8"/><rect x="56.83" y="273.49" width="12.93" height="7.87" fill="#c0cae3"/><rect x="69.76" y="273.49" width="12.93" height="7.87" fill="#b7c3e0"/><rect x="82.69" y="273.49" width="12.93" height="7.87" fill="#dca7ab"/><rect x="95.62" y="273.49" width="12.93" height="7.87" fill="#c97277"/><rect x="108.55" y="273.49" width="12.93" height="7.87" fill="#f7f7f7"/><text x="27.35" y="280.09" font-size="7.3" fill="#231f20" stroke="#231f20" textLength="12.10" lengthAdjust="spacingAndGlyphs" >Elf1</text><rect x="43.90" y="281.36" width="12.93" height="7.87" fill="#a1b1d8"/><rect x="56.83" y="281.36" width="12.93" height="7.87" fill="#b7c3e0"/><rect x="69.76" y="281.36" width="12.93" height="7.87" fill="#b7c3e0"/><rect x="82.69" y="281.36" width="12.93" height="7.87" fill="#dca7ab"/><rect x="95.62" y="281.36" width="12.93" height="7.87" fill="#e5c2c4"/><rect x="108.55" y="281.36" width="12.93" height="7.87" fill="#d38c91"/><text x="17.65" y="287.95" font-size="7.3" fill="#231f20" stroke="#231f20" textLength="22.90" lengthAdjust="spacingAndGlyphs" >Hoxb4</text><rect x="43.90" y="289.22" width="12.93" height="7.87" fill="#b7c3e0"/><rect x="56.83" y="289.22" width="12.93" height="7.87" fill="#b7c3e0"/><rect x="69.76" y="289.22" width="12.93" height="7.87" fill="#b7c3e0"/><rect x="82.69" y="289.22" width="12.93" height="7.87" fill="#dca7ab"/><rect x="95.62" y="289.22" width="12.93" height="7.87" fill="#d38c91"/><rect x="108.55" y="289.22" width="12.93" height="7.87" fill="#f7f7f7"/><text x="23.35" y="295.82" font-size="7.3" fill="#231f20" stroke="#231f20" textLength="16.10" lengthAdjust="spacingAndGlyphs" >Pbx1</text><rect x="43.90" y="297.09" width="12.93" height="7.87" fill="#b7c3e0"/><rect x="56.83" y="297.09" width="12.93" height="7.87" fill="#cdd5e8"/><rect x="69.76" y="297.09" width="12.93" height="7.87" fill="#c0cae3"/><rect x="82.69" y="297.09" width="12.93" height="7.87" fill="#f7f7f7"/><rect x="95.62" y="297.09" width="12.93" height="7.87" fill="#f7f7f7"/><rect x="108.55" y="297.09" width="12.93" height="7.87" fill="#bc4b52"/><text x="18.55" y="303.69" font-size="7.3" fill="#231f20" stroke="#231f20" textLength="22.20" lengthAdjust="spacingAndGlyphs" >Csf2ra</text><rect x="43.90" y="304.95" width="12.93" height="7.87" fill="#b7c3e0"/><rect x="56.83" y="304.95" width="12.93" height="7.87" fill="#b7c3e0"/><rect x="69.76" y="304.95" width="12.93" height="7.87" fill="#aebcdd"/><rect x="82.69" y="304.95" width="12.93" height="7.87" fill="#d89da0"/><rect x="95.62" y="304.95" width="12.93" height="7.87" fill="#d38c91"/><rect x="108.55" y="304.95" width="12.93" height="7.87" fill="#e5c2c4"/><text x="21.75" y="311.55" font-size="7.3" fill="#231f20" stroke="#231f20" textLength="19.00" lengthAdjust="spacingAndGlyphs" >Itgb3</text><rect x="43.90" y="312.81" width="12.93" height="7.87" fill="#d38c91"/><rect x="56.83" y="312.81" width="12.93" height="7.87" fill="#e5c2c4"/><rect x="69.76" y="312.81" width="12.93" height="7.87" fill="#dca7ab"/><rect x="82.69" y="312.81" width="12.93" height="7.87" fill="#b7c3e0"/><rect x="95.62" y="312.81" width="12.93" height="7.87" fill="#b7c3e0"/><rect x="108.55" y="312.81" width="12.93" height="7.87" fill="#b7c3e0"/><text x="9.85" y="319.42" font-size="7.3" fill="#231f20" stroke="#231f20" textLength="30.90" lengthAdjust="spacingAndGlyphs" >Tmem56</text><rect x="43.90" y="320.68" width="12.93" height="7.87" fill="#dca7ab"/><rect x="56.83" y="320.68" width="12.93" height="7.87" fill="#dca7ab"/><rect x="69.76" y="320.68" width="12.93" height="7.87" fill="#d38c91"/><rect x="82.69" y="320.68" width="12.93" height="7.87" fill="#b7c3e0"/><rect x="95.62" y="320.68" width="12.93" height="7.87" fill="#b7c3e0"/><rect x="108.55" y="320.68" width="12.93" height="7.87" fill="#b7c3e0"/><text x="17.65" y="327.28" font-size="7.3" fill="#231f20" stroke="#231f20" textLength="23.10" lengthAdjust="spacingAndGlyphs" >Abcg4</text><rect x="43.90" y="328.55" width="12.93" height="7.87" fill="#bc4c53"/><rect x="56.83" y="328.55" width="12.93" height="7.87" fill="#f2e8e9"/><rect x="69.76" y="328.55" width="12.93" height="7.87" fill="#e5c2c4"/><rect x="82.69" y="328.55" width="12.93" height="7.87" fill="#c0cae3"/><rect x="95.62" y="328.55" width="12.93" height="7.87" fill="#b7c3e0"/><rect x="108.55" y="328.55" width="12.93" height="7.87" fill="#b7c3e0"/><text x="19.35" y="335.14" font-size="7.3" fill="#231f20" stroke="#231f20" textLength="20.10" lengthAdjust="spacingAndGlyphs" >Pdgfd</text><rect x="43.90" y="336.41" width="12.93" height="7.87" fill="#dca7ab"/><rect x="56.83" y="336.41" width="12.93" height="7.87" fill="#dca7ab"/><rect x="69.76" y="336.41" width="12.93" height="7.87" fill="#dca7ab"/><rect x="82.69" y="336.41" width="12.93" height="7.87" fill="#b7c3e0"/><rect x="95.62" y="336.41" width="12.93" height="7.87" fill="#b7c3e0"/><rect x="108.55" y="336.41" width="12.93" height="7.87" fill="#b7c3e0"/><text x="21.75" y="343.01" font-size="7.3" fill="#231f20" stroke="#231f20" textLength="19.00" lengthAdjust="spacingAndGlyphs" >Acsl6</text><rect x="43.90" y="344.28" width="12.93" height="7.87" fill="#efddde"/><rect x="56.83" y="344.28" width="12.93" height="7.87" fill="#c97277"/><rect x="69.76" y="344.28" width="12.93" height="7.87" fill="#dca7ab"/><rect x="82.69" y="344.28" width="12.93" height="7.87" fill="#b7c3e0"/><rect x="95.62" y="344.28" width="12.93" height="7.87" fill="#b7c3e0"/><rect x="108.55" y="344.28" width="12.93" height="7.87" fill="#b7c3e0"/><text x="24.55" y="350.88" font-size="7.3" fill="#231f20" stroke="#231f20" textLength="15.60" lengthAdjust="spacingAndGlyphs" >Tac2</text><rect x="43.90" y="352.14" width="12.93" height="7.87" fill="#bc4c53"/><rect x="56.83" y="352.14" width="12.93" height="7.87" fill="#efddde"/><rect x="69.76" y="352.14" width="12.93" height="7.87" fill="#ebd2d4"/><rect x="82.69" y="352.14" width="12.93" height="7.87" fill="#c0cae3"/><rect x="95.62" y="352.14" width="12.93" height="7.87" fill="#c0cae3"/><rect x="108.55" y="352.14" width="12.93" height="7.87" fill="#b7c3e0"/><text x="17.65" y="358.74" font-size="7.3" fill="#231f20" stroke="#231f20" textLength="22.50" lengthAdjust="spacingAndGlyphs" >Epb42</text><rect x="43.90" y="360.00" width="12.93" height="7.87" fill="#e2b7ba"/><rect x="56.83" y="360.00" width="12.93" height="7.87" fill="#c97277"/><rect x="69.76" y="360.00" width="12.93" height="7.87" fill="#e5c2c4"/><rect x="82.69" y="360.00" width="12.93" height="7.87" fill="#cdd5e8"/><rect x="95.62" y="360.00" width="12.93" height="7.87" fill="#c0cae3"/><rect x="108.55" y="360.00" width="12.93" height="7.87" fill="#8ca0d0"/><text x="23.35" y="366.61" font-size="7.3" fill="#231f20" stroke="#231f20" textLength="16.10" lengthAdjust="spacingAndGlyphs" >Epor</text><path d="M43.90 226.3V367.87M56.83 226.3V367.87M69.76 226.3V367.87M82.69 226.3V367.87M95.62 226.3V367.87M108.55 226.3V367.87M121.48 226.3V367.87M43.9 226.30H121.48M43.9 234.17H121.48M43.9 242.03H121.48M43.9 249.90H121.48M43.9 257.76H121.48M43.9 265.62H121.48M43.9 273.49H121.48M43.9 281.36H121.48M43.9 289.22H121.48M43.9 297.09H121.48M43.9 304.95H121.48M43.9 312.81H121.48M43.9 320.68H121.48M43.9 328.55H121.48M43.9 336.41H121.48M43.9 344.28H121.48M43.9 352.14H121.48M43.9 360.00H121.48M43.9 367.87H121.48" stroke="#4a4a55" stroke-opacity="0.8" stroke-width="0.75" fill="none"/><text x="55.75" y="222.50" font-size="7.2" fill="#231f20" stroke="#231f20" textLength="15.50" lengthAdjust="spacingAndGlyphs" >MEP</text><text x="90.65" y="222.50" font-size="7.2" fill="#231f20" stroke="#231f20" textLength="22.30" lengthAdjust="spacingAndGlyphs" >L-MEP</text><rect x="126.1" y="225.3" width="1.8" height="44.1" fill="url(#ge)"/><text x="130.95" y="230.60" font-size="8.2" fill="#231f20" stroke="#231f20" textLength="4.40" lengthAdjust="spacingAndGlyphs" >2</text><text x="130.95" y="251.50" font-size="8.2" fill="#231f20" stroke="#231f20" textLength="4.40" lengthAdjust="spacingAndGlyphs" >0</text><text x="130.45" y="270.20" font-size="8.2" fill="#231f20" stroke="#231f20" textLength="7.90" lengthAdjust="spacingAndGlyphs" >-2</text><text transform="translate(140.90 247.35) rotate(90)" x="0" y="0" font-size="8.2" fill="#231f20" stroke="#231f20" text-anchor="middle" textLength="42.90" lengthAdjust="spacingAndGlyphs" >Row Z-score</text><text x="43.45" y="408.40" font-size="6.9" fill="#231f20" stroke="#231f20" textLength="9.40" lengthAdjust="spacingAndGlyphs" >C1</text><text x="58.35" y="408.40" font-size="6.9" fill="#231f20" stroke="#231f20" textLength="8.00" lengthAdjust="spacingAndGlyphs" >P1</text><text x="72.55" y="408.40" font-size="6.9" fill="#231f20" stroke="#231f20" textLength="9.30" lengthAdjust="spacingAndGlyphs" >C2</text><text x="87.25" y="408.40" font-size="6.9" fill="#231f20" stroke="#231f20" textLength="8.50" lengthAdjust="spacingAndGlyphs" >P2</text><text x="101.05" y="408.40" font-size="6.9" fill="#231f20" stroke="#231f20" textLength="10.30" lengthAdjust="spacingAndGlyphs" >C3</text><text x="117.15" y="408.40" font-size="6.9" fill="#231f20" stroke="#231f20" textLength="8.80" lengthAdjust="spacingAndGlyphs" >P3</text><defs><filter id="bl" x="-30%" y="-100%" width="160%" height="300%"><feGaussianBlur stdDeviation="0.55"/></filter></defs><rect x="39.6" y="414.5" width="89.8" height="13.2" fill="#e0e0e0" stroke="#767676" stroke-width="1.0"/><rect x="39.6" y="429.0" width="89.8" height="12.1" fill="#e6e6e6" stroke="#767676" stroke-width="1.0"/><rect x="39.6" y="442.0" width="89.8" height="11.0" fill="#ebebeb" stroke="#767676" stroke-width="1.0"/><rect x="39.6" y="454.4" width="89.8" height="12.7" fill="#f1f1f1" stroke="#767676" stroke-width="1.0"/><rect x="39.6" y="469.2" width="89.8" height="15.0" fill="#ececec" stroke="#767676" stroke-width="1.0"/><text x="21.25" y="422.90" font-size="7.8" fill="#231f20" stroke="#231f20" textLength="14.10" lengthAdjust="spacingAndGlyphs" style="stroke-width:0.26px">Pu.1</text><text x="9.45" y="437.20" font-size="7.8" fill="#231f20" stroke="#231f20" textLength="26.90" lengthAdjust="spacingAndGlyphs" style="stroke-width:0.26px">C/EBP&#945;</text><text x="22.25" y="449.20" font-size="7.8" fill="#231f20" stroke="#231f20" textLength="13.10" lengthAdjust="spacingAndGlyphs" style="stroke-width:0.26px">Elf1</text><text x="21.25" y="463.00" font-size="7.8" fill="#231f20" stroke="#231f20" textLength="14.40" lengthAdjust="spacingAndGlyphs" style="stroke-width:0.26px">Flag</text><text x="11.85" y="477.50" font-size="7.8" fill="#231f20" stroke="#231f20" textLength="24.50" lengthAdjust="spacingAndGlyphs" style="stroke-width:0.26px">&#946;-actin</text><rect x="42.3" y="420.80" width="11.0" height="2.40" rx="1.20" fill="#111" fill-opacity="0.85" filter="url(#bl)"/><rect x="57.0" y="419.80" width="12.6" height="4.20" rx="2.10" fill="#111" fill-opacity="1.0" filter="url(#bl)"/><rect x="73.5" y="420.50" width="9.2" height="2.60" rx="1.30" fill="#111" fill-opacity="0.9" filter="url(#bl)"/><rect x="87.0" y="419.60" width="11.5" height="4.00" rx="2.00" fill="#111" fill-opacity="1.0" filter="url(#bl)"/><rect x="102.0" y="420.50" width="9.0" height="1.80" rx="0.90" fill="#111" fill-opacity="0.35" filter="url(#bl)"/><rect x="115.8" y="419.20" width="11.2" height="3.20" rx="1.60" fill="#111" fill-opacity="1.0" filter="url(#bl)"/><rect x="61.0" y="432.85" width="8.6" height="1.70" rx="0.85" fill="#111" fill-opacity="0.95" filter="url(#bl)"/><rect x="61.3" y="435.40" width="8.0" height="1.40" rx="0.70" fill="#111" fill-opacity="0.6" filter="url(#bl)"/><rect x="88.0" y="432.90" width="9.0" height="1.80" rx="0.90" fill="#111" fill-opacity="0.75" filter="url(#bl)"/><rect x="116.7" y="431.90" width="8.7" height="2.60" rx="1.30" fill="#111" fill-opacity="1.0" filter="url(#bl)"/><rect x="59.0" y="445.05" width="9.0" height="1.50" rx="0.75" fill="#111" fill-opacity="0.6" filter="url(#bl)"/><rect x="88.0" y="445.30" width="10.0" height="2.00" rx="1.00" fill="#111" fill-opacity="0.8" filter="url(#bl)"/><rect x="117.0" y="446.10" width="10.0" height="1.40" rx="0.70" fill="#111" fill-opacity="0.35" filter="url(#bl)"/><rect x="57.7" y="459.20" width="12.9" height="2.80" rx="1.40" fill="#111" fill-opacity="1.0" filter="url(#bl)"/><rect x="85.7" y="459.10" width="13.0" height="2.40" rx="1.20" fill="#111" fill-opacity="0.85" filter="url(#bl)"/><rect x="115.6" y="458.30" width="11.7" height="2.60" rx="1.30" fill="#111" fill-opacity="0.9" filter="url(#bl)"/><circle cx="53" cy="456.5" r="0.5" fill="#333" fill-opacity="0.7"/><circle cx="54" cy="459.5" r="0.5" fill="#333" fill-opacity="0.7"/><circle cx="52.5" cy="462.5" r="0.5" fill="#333" fill-opacity="0.7"/><circle cx="72" cy="462" r="0.5" fill="#333" fill-opacity="0.7"/><circle cx="80" cy="464.5" r="0.5" fill="#333" fill-opacity="0.7"/><circle cx="111" cy="460.5" r="0.5" fill="#333" fill-opacity="0.7"/><circle cx="44" cy="458" r="0.5" fill="#333" fill-opacity="0.7"/><circle cx="47" cy="463" r="0.5" fill="#333" fill-opacity="0.7"/><rect x="41.8" y="477.65" width="12.2" height="2.30" rx="1.15" fill="#111" fill-opacity="0.9" filter="url(#bl)"/><rect x="58.6" y="477.60" width="11.4" height="2.60" rx="1.30" fill="#111" fill-opacity="0.95" filter="url(#bl)"/><rect x="73.6" y="477.55" width="11.4" height="2.50" rx="1.25" fill="#111" fill-opacity="0.95" filter="url(#bl)"/><rect x="87.8" y="476.40" width="11.6" height="3.80" rx="1.90" fill="#111" fill-opacity="1.0" filter="url(#bl)"/><rect x="103.0" y="478.10" width="8.2" height="1.80" rx="0.90" fill="#111" fill-opacity="0.65" filter="url(#bl)"/><rect x="117.0" y="477.30" width="11.0" height="2.00" rx="1.00" fill="#111" fill-opacity="0.8" filter="url(#bl)"/><path d="M173.9 403.0V461.2H295.3" fill="none" stroke="#231f20" stroke-width="1.1"/><line x1="170.3" y1="461.2" x2="173.9" y2="461.2" stroke="#231f20" stroke-width="0.9"/><text x="165.25" y="464.00" font-size="7.8" fill="#231f20" stroke="#231f20" textLength="4.00" lengthAdjust="spacingAndGlyphs" >0</text><line x1="170.3" y1="450.2" x2="173.9" y2="450.2" stroke="#231f20" stroke-width="0.9"/><text x="161.25" y="452.96" font-size="7.8" fill="#231f20" stroke="#231f20" textLength="8.00" lengthAdjust="spacingAndGlyphs" >10</text><line x1="170.3" y1="439.1" x2="173.9" y2="439.1" stroke="#231f20" stroke-width="0.9"/><text x="161.25" y="441.92" font-size="7.8" fill="#231f20" stroke="#231f20" textLength="8.00" lengthAdjust="spacingAndGlyphs" >20</text><line x1="170.3" y1="428.1" x2="173.9" y2="428.1" stroke="#231f20" stroke-width="0.9"/><text x="161.25" y="430.88" font-size="7.8" fill="#231f20" stroke="#231f20" textLength="8.00" lengthAdjust="spacingAndGlyphs" >30</text><line x1="170.3" y1="417.0" x2="173.9" y2="417.0" stroke="#231f20" stroke-width="0.9"/><text x="161.25" y="419.84" font-size="7.8" fill="#231f20" stroke="#231f20" textLength="8.00" lengthAdjust="spacingAndGlyphs" >40</text><line x1="170.3" y1="406.0" x2="173.9" y2="406.0" stroke="#231f20" stroke-width="0.9"/><text x="161.25" y="408.80" font-size="7.8" fill="#231f20" stroke="#231f20" textLength="8.00" lengthAdjust="spacingAndGlyphs" >50</text><text transform="translate(154.30 431.90) rotate(-90)" x="0" y="0" font-size="8.4" fill="#231f20" stroke="#231f20" text-anchor="middle" textLength="47.70" lengthAdjust="spacingAndGlyphs" >FPKM value</text><line x1="187.0" y1="461.2" x2="187.0" y2="464.5" stroke="#231f20" stroke-width="0.9"/><line x1="210.8" y1="461.2" x2="210.8" y2="464.5" stroke="#231f20" stroke-width="0.9"/><line x1="235.1" y1="461.2" x2="235.1" y2="464.5" stroke="#231f20" stroke-width="0.9"/><line x1="259.3" y1="461.2" x2="259.3" y2="464.5" stroke="#231f20" stroke-width="0.9"/><line x1="283.5" y1="461.2" x2="283.5" y2="464.5" stroke="#231f20" stroke-width="0.9"/><rect x="179.6" y="455.1" width="5.6" height="6.1" fill="#5f2f66"/><path d="M182.4 455.1V453.4M180.7 453.4H184.1" stroke="#231f20" stroke-width="0.8" fill="none"/><rect x="188.2" y="446.1" width="6.1" height="15.1" fill="#a4263c"/><path d="M191.2 446.1V443.2M189.6 443.2H192.9" stroke="#231f20" stroke-width="0.8" fill="none"/><rect x="212.4" y="457.5" width="6.1" height="3.7" fill="#a4263c"/><path d="M215.4 457.5V456.5M213.8 456.5H217.1" stroke="#231f20" stroke-width="0.8" fill="none"/><rect x="236.5" y="457.5" width="6.1" height="3.7" fill="#a4263c"/><path d="M239.6 457.5V456.5M237.9 456.5H241.2" stroke="#231f20" stroke-width="0.8" fill="none"/><rect x="260.6" y="454.6" width="6.0" height="6.6" fill="#a4263c"/><path d="M263.6 454.6V453.5M261.9 453.5H265.3" stroke="#231f20" stroke-width="0.8" fill="none"/><rect x="277.0" y="460.5" width="3.8" height="0.7" fill="#5f2f66"/><rect x="284.6" y="428.1" width="5.8" height="33.1" fill="#a4263c"/><path d="M287.5 428.1V410.4M285.8 410.4H289.2" stroke="#231f20" stroke-width="0.8" fill="none"/><text x="191.2" y="442.8" font-size="6.6" text-anchor="middle" fill="#231f20" stroke="#231f20">*</text><text x="214.2" y="456.4" font-size="6.6" text-anchor="middle" fill="#231f20" stroke="#231f20">*</text><text x="217.2" y="456.4" font-size="6.6" text-anchor="middle" fill="#231f20" stroke="#231f20">*</text><text x="238.3" y="456.4" font-size="6.6" text-anchor="middle" fill="#231f20" stroke="#231f20">*</text><text x="241.3" y="456.4" font-size="6.6" text-anchor="middle" fill="#231f20" stroke="#231f20">*</text><text x="262.2" y="453.2" font-size="6.6" text-anchor="middle" fill="#231f20" stroke="#231f20">*</text><text x="265.2" y="453.2" font-size="6.6" text-anchor="middle" fill="#231f20" stroke="#231f20">*</text><text x="287.5" y="408.9" font-size="6.6" text-anchor="middle" fill="#231f20" stroke="#231f20">*</text><rect x="185.6" y="403.8" width="7.3" height="3.4" fill="#5f2f66"/><text x="195.45" y="407.80" font-size="7.2" fill="#231f20" stroke="#231f20" textLength="27.80" lengthAdjust="spacingAndGlyphs" >WT-MEP</text><rect x="235.6" y="403.5" width="7.1" height="3.1" fill="#a4263c"/><text x="245.45" y="407.80" font-size="7.2" fill="#231f20" stroke="#231f20" textLength="21.20" lengthAdjust="spacingAndGlyphs" >L-MEP</text><text transform="translate(190.3 470.0) rotate(-45)" font-size="7.4" text-anchor="end" fill="#231f20" stroke="#231f20" textLength="21.3" lengthAdjust="spacingAndGlyphs">Csf2ra</text><text transform="translate(215.1 470.1) rotate(-45)" font-size="7.4" text-anchor="end" fill="#231f20" stroke="#231f20" textLength="21.3" lengthAdjust="spacingAndGlyphs">Csf2rb</text><text transform="translate(239.4 472.3) rotate(-45)" font-size="7.4" text-anchor="end" fill="#231f20" stroke="#231f20" textLength="10.5" lengthAdjust="spacingAndGlyphs">Rel</text><text transform="translate(263.1 472.1) rotate(-45)" font-size="7.4" text-anchor="end" fill="#231f20" stroke="#231f20" textLength="17.5" lengthAdjust="spacingAndGlyphs">Cxcr1</text><text transform="translate(286.3 470.5) rotate(-45)" font-size="7.4" text-anchor="end" fill="#231f20" stroke="#231f20" textLength="14.2" lengthAdjust="spacingAndGlyphs">Il3ra</text><path d="M336.5 411.8V463.1H434.4" fill="none" stroke="#231f20" stroke-width="1.1"/><line x1="333.2" y1="463.1" x2="336.5" y2="463.1" stroke="#231f20" stroke-width="0.9"/><text x="325.95" y="466.00" font-size="8.0" fill="#231f20" stroke="#231f20" textLength="4.20" lengthAdjust="spacingAndGlyphs" >0</text><line x1="333.2" y1="447.0" x2="336.5" y2="447.0" stroke="#231f20" stroke-width="0.9"/><text x="325.95" y="449.90" font-size="8.0" fill="#231f20" stroke="#231f20" textLength="4.20" lengthAdjust="spacingAndGlyphs" >2</text><line x1="333.2" y1="430.9" x2="336.5" y2="430.9" stroke="#231f20" stroke-width="0.9"/><text x="325.95" y="433.80" font-size="8.0" fill="#231f20" stroke="#231f20" textLength="4.20" lengthAdjust="spacingAndGlyphs" >4</text><line x1="333.2" y1="414.8" x2="336.5" y2="414.8" stroke="#231f20" stroke-width="0.9"/><text x="325.95" y="417.70" font-size="8.0" fill="#231f20" stroke="#231f20" textLength="4.20" lengthAdjust="spacingAndGlyphs" >6</text><text transform="translate(319.70 437.90) rotate(-90)" x="0" y="0" font-size="9.8" fill="#231f20" stroke="#231f20" text-anchor="middle" textLength="78.60" lengthAdjust="spacingAndGlyphs" >Relative expression</text><line x1="352.6" y1="463.1" x2="352.6" y2="465.90000000000003" stroke="#231f20" stroke-width="0.9"/><rect x="340.90000000000003" y="455.1" width="5.6" height="8.1" fill="#6aad4c"/><path d="M343.7 455.1V454.2M342.0 454.2H345.4" stroke="#231f20" stroke-width="0.8" fill="none"/><rect x="349.8" y="424.1" width="5.6" height="39.0" fill="#3d5f8e"/><path d="M352.6 424.1V420.0M350.9 420.0H354.3" stroke="#231f20" stroke-width="0.8" fill="none"/><rect x="358.70000000000005" y="462.7" width="5.6" height="0.4" fill="#a82b3d"/><path d="M361.5 462.7V462.5M359.8 462.5H363.2" stroke="#231f20" stroke-width="0.8" fill="none"/><path d="M352.6 419.2V415.8H362.4V460.0" stroke="#231f20" stroke-width="0.8" fill="none"/><text x="354.6" y="416.2" font-size="7.8" text-anchor="middle" fill="#231f20" stroke="#231f20" stroke-width="0.3">*</text><text x="357.6" y="416.2" font-size="7.8" text-anchor="middle" fill="#231f20" stroke="#231f20" stroke-width="0.3">*</text><text x="360.6" y="416.2" font-size="7.8" text-anchor="middle" fill="#231f20" stroke="#231f20" stroke-width="0.3">*</text><text x="342.05" y="477.00" font-size="8.0" fill="#231f20" stroke="#231f20" textLength="20.60" lengthAdjust="spacingAndGlyphs" >Gata1</text><line x1="385.2" y1="463.1" x2="385.2" y2="465.90000000000003" stroke="#231f20" stroke-width="0.9"/><rect x="373.5" y="455.1" width="5.6" height="8.1" fill="#6aad4c"/><path d="M376.3 455.1V454.7M374.6 454.7H378.0" stroke="#231f20" stroke-width="0.8" fill="none"/><rect x="382.4" y="428.1" width="5.6" height="35.0" fill="#3d5f8e"/><path d="M385.2 428.1V421.2M383.5 421.2H386.9" stroke="#231f20" stroke-width="0.8" fill="none"/><rect x="391.3" y="453.8" width="5.6" height="9.3" fill="#a82b3d"/><path d="M394.1 453.8V453.4M392.4 453.4H395.8" stroke="#231f20" stroke-width="0.8" fill="none"/><path d="M385.2 420.4V415.8H395.0V448.3" stroke="#231f20" stroke-width="0.8" fill="none"/><text x="387.2" y="416.2" font-size="7.8" text-anchor="middle" fill="#231f20" stroke="#231f20" stroke-width="0.3">*</text><text x="390.2" y="416.2" font-size="7.8" text-anchor="middle" fill="#231f20" stroke="#231f20" stroke-width="0.3">*</text><text x="393.2" y="416.2" font-size="7.8" text-anchor="middle" fill="#231f20" stroke="#231f20" stroke-width="0.3">*</text><text x="376.65" y="477.00" font-size="8.0" fill="#231f20" stroke="#231f20" textLength="17.30" lengthAdjust="spacingAndGlyphs" >Fog1</text><line x1="418.0" y1="463.1" x2="418.0" y2="465.90000000000003" stroke="#231f20" stroke-width="0.9"/><rect x="406.3" y="455.1" width="5.6" height="8.1" fill="#6aad4c"/><path d="M409.1 455.1V454.6M407.4 454.6H410.8" stroke="#231f20" stroke-width="0.8" fill="none"/><rect x="415.2" y="426.1" width="5.6" height="37.0" fill="#3d5f8e"/><path d="M418.0 426.1V422.4M416.3 422.4H419.7" stroke="#231f20" stroke-width="0.8" fill="none"/><path d="M418.0 421.6V415.8H427.8V460.4" stroke="#231f20" stroke-width="0.8" fill="none"/><text x="420.0" y="416.2" font-size="7.8" text-anchor="middle" fill="#231f20" stroke="#231f20" stroke-width="0.3">*</text><text x="423.0" y="416.2" font-size="7.8" text-anchor="middle" fill="#231f20" stroke="#231f20" stroke-width="0.3">*</text><text x="426.0" y="416.2" font-size="7.8" text-anchor="middle" fill="#231f20" stroke="#231f20" stroke-width="0.3">*</text><text x="410.65" y="477.00" font-size="8.0" fill="#231f20" stroke="#231f20" textLength="14.70" lengthAdjust="spacingAndGlyphs" >Klf1</text><rect x="442.8" y="412.6" width="6" height="3.1" fill="#6aad4c"/><text x="451.65" y="416.40" font-size="7.8" fill="#6aad4c" stroke="#6aad4c" textLength="26.70" lengthAdjust="spacingAndGlyphs" >BM bulk</text><rect x="442.8" y="424.0" width="6" height="3.1" fill="#3d5f8e"/><text x="451.65" y="428.30" font-size="7.8" fill="#3d5f8e" stroke="#3d5f8e" textLength="14.50" lengthAdjust="spacingAndGlyphs" >MEP</text><rect x="442.8" y="436.2" width="6" height="3.1" fill="#a82b3d"/><text x="451.65" y="439.80" font-size="7.8" fill="#a82b3d" stroke="#a82b3d" textLength="20.70" lengthAdjust="spacingAndGlyphs" >L-MEP</text><path d="M0.8 0.8H519.1V495.9H0.8Z" fill="none" stroke="#444" stroke-width="1.7"/>
</svg>
</body></html>
